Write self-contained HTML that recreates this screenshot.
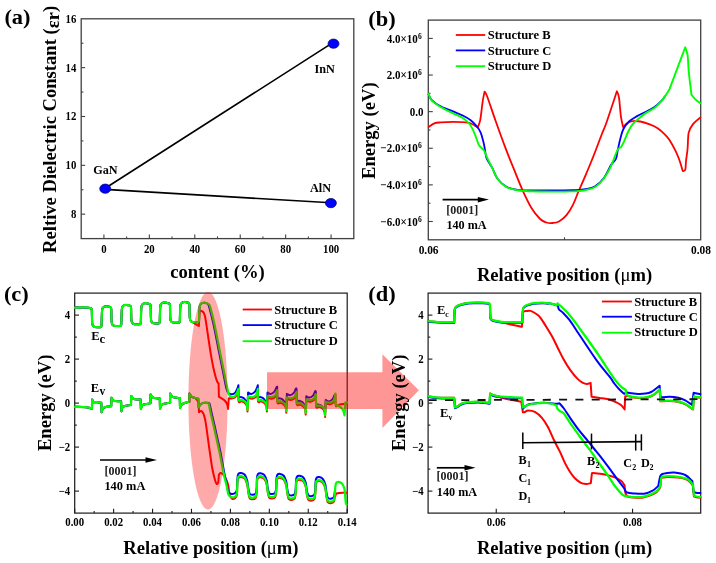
<!DOCTYPE html>
<html><head><meta charset="utf-8"><title>Figure</title>
<style>html,body{margin:0;padding:0;background:#fff;overflow:hidden;}svg{display:block;will-change:transform;}</style>
</head><body>
<svg width="716" height="563" viewBox="0 0 716 563"><text transform="translate(4.4 24.3) scale(1.03 1)" x="0" y="0" font-size="21.8" text-anchor="start" font-weight="bold" font-family="'Liberation Serif', serif" >(a)</text>
<line x1="81.2" y1="214.18" x2="85.2" y2="214.18" stroke="#404040" stroke-width="1.1" />
<text transform="translate(76.4 218.08) scale(1 1.2)" x="0" y="0" font-size="10.8" text-anchor="end" font-weight="bold" font-family="'Liberation Serif', serif" >8</text>
<line x1="81.2" y1="165.33" x2="85.2" y2="165.33" stroke="#404040" stroke-width="1.1" />
<text transform="translate(76.4 169.23) scale(1 1.2)" x="0" y="0" font-size="10.8" text-anchor="end" font-weight="bold" font-family="'Liberation Serif', serif" >10</text>
<line x1="81.2" y1="116.49" x2="85.2" y2="116.49" stroke="#404040" stroke-width="1.1" />
<text transform="translate(76.4 120.39) scale(1 1.2)" x="0" y="0" font-size="10.8" text-anchor="end" font-weight="bold" font-family="'Liberation Serif', serif" >12</text>
<line x1="81.2" y1="67.64" x2="85.2" y2="67.64" stroke="#404040" stroke-width="1.1" />
<text transform="translate(76.4 71.54) scale(1 1.2)" x="0" y="0" font-size="10.8" text-anchor="end" font-weight="bold" font-family="'Liberation Serif', serif" >14</text>
<text transform="translate(76.4 22.7) scale(1 1.2)" x="0" y="0" font-size="10.8" text-anchor="end" font-weight="bold" font-family="'Liberation Serif', serif" >16</text>
<line x1="81.2" y1="189.76" x2="83.4" y2="189.76" stroke="#404040" stroke-width="1.1" />
<line x1="81.2" y1="140.91" x2="83.4" y2="140.91" stroke="#404040" stroke-width="1.1" />
<line x1="81.2" y1="92.07" x2="83.4" y2="92.07" stroke="#404040" stroke-width="1.1" />
<line x1="81.2" y1="43.22" x2="83.4" y2="43.22" stroke="#404040" stroke-width="1.1" />
<line x1="103.92" y1="238.6" x2="103.92" y2="234.6" stroke="#404040" stroke-width="1.1" />
<text transform="translate(103.92 252.5) scale(1 1.2)" x="0" y="0" font-size="10.8" text-anchor="middle" font-weight="bold" font-family="'Liberation Serif', serif" >0</text>
<line x1="149.35" y1="238.6" x2="149.35" y2="234.6" stroke="#404040" stroke-width="1.1" />
<text transform="translate(149.35 252.5) scale(1 1.2)" x="0" y="0" font-size="10.8" text-anchor="middle" font-weight="bold" font-family="'Liberation Serif', serif" >20</text>
<line x1="194.78" y1="238.6" x2="194.78" y2="234.6" stroke="#404040" stroke-width="1.1" />
<text transform="translate(194.78 252.5) scale(1 1.2)" x="0" y="0" font-size="10.8" text-anchor="middle" font-weight="bold" font-family="'Liberation Serif', serif" >40</text>
<line x1="240.22" y1="238.6" x2="240.22" y2="234.6" stroke="#404040" stroke-width="1.1" />
<text transform="translate(240.22 252.5) scale(1 1.2)" x="0" y="0" font-size="10.8" text-anchor="middle" font-weight="bold" font-family="'Liberation Serif', serif" >60</text>
<line x1="285.65" y1="238.6" x2="285.65" y2="234.6" stroke="#404040" stroke-width="1.1" />
<text transform="translate(285.65 252.5) scale(1 1.2)" x="0" y="0" font-size="10.8" text-anchor="middle" font-weight="bold" font-family="'Liberation Serif', serif" >80</text>
<line x1="331.08" y1="238.6" x2="331.08" y2="234.6" stroke="#404040" stroke-width="1.1" />
<text transform="translate(331.08 252.5) scale(1 1.2)" x="0" y="0" font-size="10.8" text-anchor="middle" font-weight="bold" font-family="'Liberation Serif', serif" >100</text>
<line x1="126.63" y1="238.6" x2="126.63" y2="236.4" stroke="#404040" stroke-width="1.1" />
<line x1="172.07" y1="238.6" x2="172.07" y2="236.4" stroke="#404040" stroke-width="1.1" />
<line x1="217.5" y1="238.6" x2="217.5" y2="236.4" stroke="#404040" stroke-width="1.1" />
<line x1="262.93" y1="238.6" x2="262.93" y2="236.4" stroke="#404040" stroke-width="1.1" />
<line x1="308.37" y1="238.6" x2="308.37" y2="236.4" stroke="#404040" stroke-width="1.1" />
<rect x="81.2" y="18.8" width="272.6" height="219.8" fill="none" stroke="#404040" stroke-width="1.3"/>
<line x1="105.2" y1="188.3" x2="332.5" y2="42.9" stroke="#000" stroke-width="1.65" />
<line x1="105.2" y1="189.4" x2="330.9" y2="202.8" stroke="#000" stroke-width="1.65" />
<ellipse cx="105.2" cy="188.7" rx="5.5" ry="4.65" fill="#0000ff" stroke="#000060" stroke-width="0.7"/>
<ellipse cx="333.5" cy="43.7" rx="5.5" ry="4.65" fill="#0000ff" stroke="#000060" stroke-width="0.7"/>
<ellipse cx="330.9" cy="203.1" rx="5.5" ry="4.65" fill="#0000ff" stroke="#000060" stroke-width="0.7"/>
<text x="93.2" y="173.6" font-size="12.2" text-anchor="start" font-weight="bold" font-family="'Liberation Serif', serif" >GaN</text>
<text x="314.6" y="72.6" font-size="12.2" text-anchor="start" font-weight="bold" font-family="'Liberation Serif', serif" >InN</text>
<text x="310" y="191.8" font-size="12.2" text-anchor="start" font-weight="bold" font-family="'Liberation Serif', serif" >AlN</text>
<text transform="translate(56.2 129.4) rotate(-90)" x="0" y="0" font-size="18.6" text-anchor="middle" font-weight="bold" font-family="'Liberation Serif', serif" >Reltive Dielectric Constant (<tspan dy="2.6">&#949;r</tspan><tspan dy="-2.6">)</tspan></text>
<text x="217.5" y="277.6" font-size="18.6" text-anchor="middle" font-weight="bold" font-family="'Liberation Serif', serif" >content (%)</text>
<text transform="translate(368.2 25.5) scale(1.03 1)" x="0" y="0" font-size="21.8" text-anchor="start" font-weight="bold" font-family="'Liberation Serif', serif" >(b)</text>
<line x1="428.3" y1="221.49" x2="432.8" y2="221.49" stroke="#404040" stroke-width="1.1" />
<text transform="translate(417.8 225.59) scale(1 1.1)" x="0" y="0" font-size="11" text-anchor="end" font-weight="bold" font-family="'Liberation Serif', serif" >&#8722;6.0&#215;10</text>
<text transform="translate(418 221.69) scale(1 1.1)" x="0" y="0" font-size="7.6" text-anchor="start" font-weight="bold" font-family="'Liberation Serif', serif" >6</text>
<line x1="428.3" y1="184.88" x2="432.8" y2="184.88" stroke="#404040" stroke-width="1.1" />
<text transform="translate(417.8 188.97) scale(1 1.1)" x="0" y="0" font-size="11" text-anchor="end" font-weight="bold" font-family="'Liberation Serif', serif" >&#8722;4.0&#215;10</text>
<text transform="translate(418 185.07) scale(1 1.1)" x="0" y="0" font-size="7.6" text-anchor="start" font-weight="bold" font-family="'Liberation Serif', serif" >6</text>
<line x1="428.3" y1="148.26" x2="432.8" y2="148.26" stroke="#404040" stroke-width="1.1" />
<text transform="translate(417.8 152.36) scale(1 1.1)" x="0" y="0" font-size="11" text-anchor="end" font-weight="bold" font-family="'Liberation Serif', serif" >&#8722;2.0&#215;10</text>
<text transform="translate(418 148.46) scale(1 1.1)" x="0" y="0" font-size="7.6" text-anchor="start" font-weight="bold" font-family="'Liberation Serif', serif" >6</text>
<line x1="428.3" y1="111.64" x2="432.8" y2="111.64" stroke="#404040" stroke-width="1.1" />
<text transform="translate(423.4 115.74) scale(1 1.1)" x="0" y="0" font-size="11" text-anchor="end" font-weight="bold" font-family="'Liberation Serif', serif" >0.0</text>
<line x1="428.3" y1="75.03" x2="432.8" y2="75.03" stroke="#404040" stroke-width="1.1" />
<text transform="translate(417.8 79.12) scale(1 1.1)" x="0" y="0" font-size="11" text-anchor="end" font-weight="bold" font-family="'Liberation Serif', serif" >2.0&#215;10</text>
<text transform="translate(418 75.23) scale(1 1.1)" x="0" y="0" font-size="7.6" text-anchor="start" font-weight="bold" font-family="'Liberation Serif', serif" >6</text>
<line x1="428.3" y1="38.41" x2="432.8" y2="38.41" stroke="#404040" stroke-width="1.1" />
<text transform="translate(417.8 42.51) scale(1 1.1)" x="0" y="0" font-size="11" text-anchor="end" font-weight="bold" font-family="'Liberation Serif', serif" >4.0&#215;10</text>
<text transform="translate(418 38.61) scale(1 1.1)" x="0" y="0" font-size="7.6" text-anchor="start" font-weight="bold" font-family="'Liberation Serif', serif" >6</text>
<line x1="428.3" y1="203.18" x2="430.5" y2="203.18" stroke="#404040" stroke-width="1.1" />
<line x1="428.3" y1="166.57" x2="430.5" y2="166.57" stroke="#404040" stroke-width="1.1" />
<line x1="428.3" y1="129.95" x2="430.5" y2="129.95" stroke="#404040" stroke-width="1.1" />
<line x1="428.3" y1="93.33" x2="430.5" y2="93.33" stroke="#404040" stroke-width="1.1" />
<line x1="428.3" y1="56.72" x2="430.5" y2="56.72" stroke="#404040" stroke-width="1.1" />
<line x1="564.5" y1="239.8" x2="564.5" y2="237.3" stroke="#404040" stroke-width="1.1" />
<rect x="428.3" y="20.1" width="272.4" height="219.7" fill="none" stroke="#404040" stroke-width="1.3"/>
<text transform="translate(428.6 253.8) scale(1 1.1)" x="0" y="0" font-size="11.4" text-anchor="middle" font-weight="bold" font-family="'Liberation Serif', serif" >0.06</text>
<text transform="translate(700.9 253.8) scale(1 1.1)" x="0" y="0" font-size="11.4" text-anchor="middle" font-weight="bold" font-family="'Liberation Serif', serif" >0.08</text>
<text transform="translate(375.2 130.7) rotate(-90)" x="0" y="0" font-size="18.6" text-anchor="middle" font-weight="bold" font-family="'Liberation Serif', serif" >Energy (eV)</text>
<text x="564.5" y="280.7" font-size="18.6" text-anchor="middle" font-weight="bold" font-family="'Liberation Serif', serif" >Relative position (<tspan font-weight="normal">&#956;</tspan>m)</text>
<text transform="translate(3.9 301.2) scale(1.03 1)" x="0" y="0" font-size="21.8" text-anchor="start" font-weight="bold" font-family="'Liberation Serif', serif" >(c)</text>
<line x1="74.7" y1="491.1" x2="79" y2="491.1" stroke="#1a1a1a" stroke-width="1.1" />
<text transform="translate(70.2 494.7) scale(1 1.08)" x="0" y="0" font-size="10.8" text-anchor="end" font-weight="bold" font-family="'Liberation Serif', serif" >&#8722;4</text>
<line x1="74.7" y1="447.1" x2="79" y2="447.1" stroke="#1a1a1a" stroke-width="1.1" />
<text transform="translate(70.2 450.7) scale(1 1.08)" x="0" y="0" font-size="10.8" text-anchor="end" font-weight="bold" font-family="'Liberation Serif', serif" >&#8722;2</text>
<line x1="74.7" y1="403.1" x2="79" y2="403.1" stroke="#1a1a1a" stroke-width="1.1" />
<text transform="translate(70.2 406.7) scale(1 1.08)" x="0" y="0" font-size="10.8" text-anchor="end" font-weight="bold" font-family="'Liberation Serif', serif" >0</text>
<line x1="74.7" y1="359.1" x2="79" y2="359.1" stroke="#1a1a1a" stroke-width="1.1" />
<text transform="translate(70.2 362.7) scale(1 1.08)" x="0" y="0" font-size="10.8" text-anchor="end" font-weight="bold" font-family="'Liberation Serif', serif" >2</text>
<line x1="74.7" y1="315.1" x2="79" y2="315.1" stroke="#1a1a1a" stroke-width="1.1" />
<text transform="translate(70.2 318.7) scale(1 1.08)" x="0" y="0" font-size="10.8" text-anchor="end" font-weight="bold" font-family="'Liberation Serif', serif" >4</text>
<line x1="74.7" y1="469.1" x2="76.9" y2="469.1" stroke="#1a1a1a" stroke-width="1.1" />
<line x1="74.7" y1="425.1" x2="76.9" y2="425.1" stroke="#1a1a1a" stroke-width="1.1" />
<line x1="74.7" y1="381.1" x2="76.9" y2="381.1" stroke="#1a1a1a" stroke-width="1.1" />
<line x1="74.7" y1="337.1" x2="76.9" y2="337.1" stroke="#1a1a1a" stroke-width="1.1" />
<line x1="74.7" y1="513.1" x2="74.7" y2="508.8" stroke="#1a1a1a" stroke-width="1.1" />
<text transform="translate(74.7 526.4) scale(1 1.15)" x="0" y="0" font-size="10.8" text-anchor="middle" font-weight="bold" font-family="'Liberation Serif', serif" >0.00</text>
<line x1="113.63" y1="513.1" x2="113.63" y2="508.8" stroke="#1a1a1a" stroke-width="1.1" />
<text transform="translate(113.63 526.4) scale(1 1.15)" x="0" y="0" font-size="10.8" text-anchor="middle" font-weight="bold" font-family="'Liberation Serif', serif" >0.02</text>
<line x1="152.56" y1="513.1" x2="152.56" y2="508.8" stroke="#1a1a1a" stroke-width="1.1" />
<text transform="translate(152.56 526.4) scale(1 1.15)" x="0" y="0" font-size="10.8" text-anchor="middle" font-weight="bold" font-family="'Liberation Serif', serif" >0.04</text>
<line x1="191.49" y1="513.1" x2="191.49" y2="508.8" stroke="#1a1a1a" stroke-width="1.1" />
<text transform="translate(191.49 526.4) scale(1 1.15)" x="0" y="0" font-size="10.8" text-anchor="middle" font-weight="bold" font-family="'Liberation Serif', serif" >0.06</text>
<line x1="230.41" y1="513.1" x2="230.41" y2="508.8" stroke="#1a1a1a" stroke-width="1.1" />
<text transform="translate(230.41 526.4) scale(1 1.15)" x="0" y="0" font-size="10.8" text-anchor="middle" font-weight="bold" font-family="'Liberation Serif', serif" >0.08</text>
<line x1="269.34" y1="513.1" x2="269.34" y2="508.8" stroke="#1a1a1a" stroke-width="1.1" />
<text transform="translate(269.34 526.4) scale(1 1.15)" x="0" y="0" font-size="10.8" text-anchor="middle" font-weight="bold" font-family="'Liberation Serif', serif" >0.10</text>
<line x1="308.27" y1="513.1" x2="308.27" y2="508.8" stroke="#1a1a1a" stroke-width="1.1" />
<text transform="translate(308.27 526.4) scale(1 1.15)" x="0" y="0" font-size="10.8" text-anchor="middle" font-weight="bold" font-family="'Liberation Serif', serif" >0.12</text>
<line x1="347.2" y1="513.1" x2="347.2" y2="508.8" stroke="#1a1a1a" stroke-width="1.1" />
<text transform="translate(347.2 526.4) scale(1 1.15)" x="0" y="0" font-size="10.8" text-anchor="middle" font-weight="bold" font-family="'Liberation Serif', serif" >0.14</text>
<line x1="94.16" y1="513.1" x2="94.16" y2="510.9" stroke="#1a1a1a" stroke-width="1.1" />
<line x1="133.09" y1="513.1" x2="133.09" y2="510.9" stroke="#1a1a1a" stroke-width="1.1" />
<line x1="172.02" y1="513.1" x2="172.02" y2="510.9" stroke="#1a1a1a" stroke-width="1.1" />
<line x1="210.95" y1="513.1" x2="210.95" y2="510.9" stroke="#1a1a1a" stroke-width="1.1" />
<line x1="249.88" y1="513.1" x2="249.88" y2="510.9" stroke="#1a1a1a" stroke-width="1.1" />
<line x1="288.81" y1="513.1" x2="288.81" y2="510.9" stroke="#1a1a1a" stroke-width="1.1" />
<line x1="327.74" y1="513.1" x2="327.74" y2="510.9" stroke="#1a1a1a" stroke-width="1.1" />
<rect x="74.7" y="293.1" width="272.5" height="220" fill="none" stroke="#1a1a1a" stroke-width="1.2"/>
<text transform="translate(50.9 402.8) rotate(-90)" x="0" y="0" font-size="18.6" text-anchor="middle" font-weight="bold" font-family="'Liberation Serif', serif" >Energy (eV)</text>
<text x="210.9" y="554.2" font-size="18.6" text-anchor="middle" font-weight="bold" font-family="'Liberation Serif', serif" >Relative position (<tspan font-weight="normal">&#956;</tspan>m)</text>
<text transform="translate(368.2 301.2) scale(1.03 1)" x="0" y="0" font-size="21.8" text-anchor="start" font-weight="bold" font-family="'Liberation Serif', serif" >(d)</text>
<line x1="428.1" y1="491.1" x2="432.4" y2="491.1" stroke="#1a1a1a" stroke-width="1.1" />
<text transform="translate(423.7 494.7) scale(1 1.08)" x="0" y="0" font-size="10.8" text-anchor="end" font-weight="bold" font-family="'Liberation Serif', serif" >&#8722;4</text>
<line x1="428.1" y1="447.1" x2="432.4" y2="447.1" stroke="#1a1a1a" stroke-width="1.1" />
<text transform="translate(423.7 450.7) scale(1 1.08)" x="0" y="0" font-size="10.8" text-anchor="end" font-weight="bold" font-family="'Liberation Serif', serif" >&#8722;2</text>
<line x1="428.1" y1="403.1" x2="432.4" y2="403.1" stroke="#1a1a1a" stroke-width="1.1" />
<text transform="translate(423.7 406.7) scale(1 1.08)" x="0" y="0" font-size="10.8" text-anchor="end" font-weight="bold" font-family="'Liberation Serif', serif" >0</text>
<line x1="428.1" y1="359.1" x2="432.4" y2="359.1" stroke="#1a1a1a" stroke-width="1.1" />
<text transform="translate(423.7 362.7) scale(1 1.08)" x="0" y="0" font-size="10.8" text-anchor="end" font-weight="bold" font-family="'Liberation Serif', serif" >2</text>
<line x1="428.1" y1="315.1" x2="432.4" y2="315.1" stroke="#1a1a1a" stroke-width="1.1" />
<text transform="translate(423.7 318.7) scale(1 1.08)" x="0" y="0" font-size="10.8" text-anchor="end" font-weight="bold" font-family="'Liberation Serif', serif" >4</text>
<line x1="428.1" y1="469.1" x2="430.3" y2="469.1" stroke="#1a1a1a" stroke-width="1.1" />
<line x1="428.1" y1="425.1" x2="430.3" y2="425.1" stroke="#1a1a1a" stroke-width="1.1" />
<line x1="428.1" y1="381.1" x2="430.3" y2="381.1" stroke="#1a1a1a" stroke-width="1.1" />
<line x1="428.1" y1="337.1" x2="430.3" y2="337.1" stroke="#1a1a1a" stroke-width="1.1" />
<line x1="496.25" y1="513.1" x2="496.25" y2="508.8" stroke="#1a1a1a" stroke-width="1.1" />
<text transform="translate(496.25 526.4) scale(1 1.15)" x="0" y="0" font-size="10.8" text-anchor="middle" font-weight="bold" font-family="'Liberation Serif', serif" >0.06</text>
<line x1="632.55" y1="513.1" x2="632.55" y2="508.8" stroke="#1a1a1a" stroke-width="1.1" />
<text transform="translate(632.55 526.4) scale(1 1.15)" x="0" y="0" font-size="10.8" text-anchor="middle" font-weight="bold" font-family="'Liberation Serif', serif" >0.08</text>
<line x1="564.4" y1="513.1" x2="564.4" y2="510.9" stroke="#1a1a1a" stroke-width="1.1" />
<rect x="428.1" y="293.1" width="272.6" height="220" fill="none" stroke="#1a1a1a" stroke-width="1.2"/>
<text x="564.5" y="554.2" font-size="18.6" text-anchor="middle" font-weight="bold" font-family="'Liberation Serif', serif" >Relative position (<tspan font-weight="normal">&#956;</tspan>m)</text>
<path d="M428.6 127.1C429.55 126.48 432.3 124.18 434.3 123.4C436.3 122.62 437.47 122.65 440.6 122.4C443.73 122.15 448.92 121.9 453.1 121.9C457.28 121.9 462.55 122.05 465.7 122.4C468.85 122.75 470.02 123.15 472 124C473.98 124.85 476.67 126.92 477.6 127.5C478.03 126.28 479.35 124.55 480.2 120.2C481.05 115.85 481.97 106.17 482.7 101.4C483.43 96.63 484.28 93.23 484.6 91.6C485.02 92.38 485.2 91.23 487.1 96.3C489 101.37 492.87 113.2 496 122C499.13 130.8 502.73 140.78 505.9 149.1C509.07 157.42 512.23 165.07 515 171.9C517.77 178.73 519.78 184.13 522.5 190.1C525.22 196.07 528.37 202.88 531.3 207.7C534.23 212.52 537.58 216.53 540.1 219C542.62 221.47 544.3 221.83 546.4 222.5C548.5 223.17 550.6 223.17 552.7 223C554.8 222.83 556.7 222.8 559 221.5C561.3 220.2 564.2 217.92 566.5 215.2C568.8 212.48 570.8 209.17 572.8 205.2C574.8 201.23 576.47 196.17 578.5 191.4C580.53 186.63 582.43 182.67 585 176.6C587.57 170.53 591.15 161.93 593.9 155C596.65 148.07 599.42 140.38 601.5 135C603.58 129.62 603.83 129.98 606.4 122.7C608.97 115.42 615.15 96.53 616.9 91.3C617.25 92.35 618.33 93.42 619 97.6C619.67 101.78 620.22 111.48 620.9 116.4C621.58 121.32 622.73 125.32 623.1 127.1C623.88 126.37 626.18 123.7 627.8 122.7C629.42 121.7 630.7 121.3 632.8 121.1C634.9 120.9 637.47 120.92 640.4 121.5C643.33 122.08 647.47 123.45 650.4 124.6C653.33 125.75 655.57 126.73 658 128.4C660.43 130.07 663.08 132.65 665 134.6C666.92 136.55 667.77 137.42 669.5 140.1C671.23 142.78 673.8 147.52 675.4 150.7C677 153.88 678.03 156.37 679.1 159.2C680.17 162.03 681.18 165.72 681.8 167.7C682.42 169.68 682.63 170.53 682.8 171.1C683.22 170.88 684.77 171.43 685.3 169.8C685.83 168.17 685.62 164.85 686 161.3C686.38 157.75 687.15 153.28 687.6 148.5C688.05 143.72 687.8 136.67 688.7 132.6C689.6 128.53 691.05 126.62 693 124.1C694.95 121.58 699.17 118.6 700.4 117.5" fill="none" stroke="#ff0000" stroke-width="1.8" stroke-linejoin="round" stroke-linecap="round"/>
<path d="M428.6 94.5C429.13 95.43 429.8 98.12 431.8 100.1C433.8 102.08 437.05 104.52 440.6 106.4C444.15 108.28 449.33 109.83 453.1 111.4C456.87 112.97 460.27 114.33 463.2 115.8C466.13 117.27 468.4 118.42 470.7 120.2C473 121.98 475.32 124.4 477 126.5C478.68 128.6 479.75 130.28 480.8 132.8C481.85 135.32 482.68 139.23 483.3 141.6C483.92 143.97 483.98 144.33 484.5 147C485.02 149.67 485.45 154.68 486.4 157.6C487.35 160.52 489.15 162.62 490.2 164.5C491.25 166.38 491.45 166.48 492.7 168.9C493.95 171.32 495.4 176.02 497.7 179C500 181.98 503.15 184.97 506.5 186.8C509.85 188.63 513.88 189.42 517.8 190C521.72 190.58 524.18 190.23 530 190.3C535.82 190.37 545.77 190.42 552.7 190.4C559.63 190.38 566.47 190.35 571.6 190.2C576.73 190.05 579.58 190.17 583.5 189.5C587.42 188.83 591.73 188.08 595.1 186.2C598.47 184.32 601.03 181.77 603.7 178.2C606.37 174.63 609.07 168 611.1 164.8C613.13 161.6 614.75 161.65 615.9 159C617.05 156.35 617.28 152.18 618 148.9C618.72 145.62 619.3 142.62 620.2 139.3C621.1 135.98 621.93 131.97 623.4 129C624.87 126.03 626.8 123.6 629 121.5C631.2 119.4 633.87 117.98 636.6 116.4C639.33 114.82 642.47 113.53 645.4 112C648.33 110.47 651.48 109.1 654.2 107.2C656.92 105.3 659.9 102.42 661.7 100.6C663.5 98.78 664.45 97.02 665 96.3" fill="none" stroke="#0000ff" stroke-width="1.8" stroke-linejoin="round" stroke-linecap="round"/>
<path d="M428.6 93.8C429.13 94.95 429.8 98.5 431.8 100.7C433.8 102.9 437.05 104.9 440.6 107C444.15 109.1 449.33 111.42 453.1 113.3C456.87 115.18 460.47 116.52 463.2 118.3C465.93 120.08 467.83 122 469.5 124C471.17 126 472.02 127.8 473.2 130.3C474.38 132.8 475.65 136.55 476.6 139C477.55 141.45 478 143.42 478.9 145C479.8 146.58 481.07 147.45 482 148.5C482.93 149.55 483.55 149.57 484.5 151.3C485.45 153.03 486.33 155.97 487.7 158.9C489.07 161.83 491.03 165.55 492.7 168.9C494.37 172.25 495.4 175.97 497.7 179C500 182.03 503.15 185.22 506.5 187.1C509.85 188.98 513.82 189.6 517.8 190.3C521.78 191 524.58 191.08 530.4 191.3C536.22 191.52 545.83 191.58 552.7 191.6C559.57 191.62 566.47 191.58 571.6 191.4C576.73 191.22 579.58 191.23 583.5 190.5C587.42 189.77 591.73 188.97 595.1 187C598.47 185.03 601.03 182.22 603.7 178.7C606.37 175.18 608.8 170.7 611.1 165.9C613.4 161.1 615.82 153.08 617.5 149.9C619.18 146.72 620.12 148.18 621.2 146.8C622.28 145.42 622.9 143.98 624 141.6C625.1 139.22 626.63 135.02 627.8 132.5C628.97 129.98 629.75 128.33 631 126.5C632.25 124.67 632.9 123.68 635.3 121.5C637.7 119.32 642.05 115.77 645.4 113.4C648.75 111.03 652.47 109.67 655.4 107.3C658.33 104.93 660.73 102.08 663 99.2C665.27 96.32 667.73 92.17 669 90C670.27 87.83 669.27 89.68 670.6 86.2C671.93 82.72 675.05 74.27 677 69.1C678.95 63.93 680.93 58.83 682.3 55.2C683.67 51.57 684.72 48.62 685.2 47.3C685.6 48.62 687.02 51.22 687.6 55.2C688.18 59.18 688.25 66.22 688.7 71.2C689.15 76.18 689.85 81.2 690.3 85.1C690.75 89 691.22 93.02 691.4 94.6C692.02 95.35 693.6 97.65 695.1 99.1C696.6 100.55 699.52 102.6 700.4 103.3" fill="none" stroke="#00ff00" stroke-width="1.9" stroke-linejoin="round" stroke-linecap="round"/>
<line x1="455.8" y1="35" x2="485.2" y2="35" stroke="#ff0000" stroke-width="1.8" />
<text x="487.7" y="39.1" font-size="12.55" text-anchor="start" font-weight="bold" font-family="'Liberation Serif', serif" >Structure B</text>
<line x1="455.8" y1="50.4" x2="485.2" y2="50.4" stroke="#0000ff" stroke-width="1.8" />
<text x="487.7" y="54.5" font-size="12.55" text-anchor="start" font-weight="bold" font-family="'Liberation Serif', serif" >Structure C</text>
<line x1="455.8" y1="66.2" x2="485.2" y2="66.2" stroke="#00ff00" stroke-width="1.8" />
<text x="487.7" y="69.6" font-size="12.55" text-anchor="start" font-weight="bold" font-family="'Liberation Serif', serif" >Structure D</text>
<line x1="442.6" y1="199.6" x2="480" y2="199.6" stroke="#000" stroke-width="1.7" />
<polygon points="477.8,196.9 488.9,199.6 477.8,202.4" fill="#000"/>
<text x="446.2" y="213.5" font-size="12" text-anchor="start" font-weight="bold" font-family="'Liberation Serif', serif" fill="#222">[0001]</text>
<text x="446.4" y="228.6" font-size="12.2" text-anchor="start" font-weight="bold" font-family="'Liberation Serif', serif" >140 mA</text>
<path d="M74.9 307.6C76.15 307.57 80.18 307.38 82.4 307.4C84.62 307.42 86.77 307.52 88.2 307.7C89.63 307.88 90.4 308.18 91 308.5C91.6 308.82 91.67 309.42 91.8 309.6C91.86 311.7 91.98 319.57 92.15 322.2C92.32 324.83 92.41 324.62 92.8 325.4C93.19 326.18 93.8 326.6 94.5 326.9C95.2 327.2 95.93 327.18 97 327.2C98.07 327.22 100.15 327.25 100.9 327C101.65 326.75 101.4 325.92 101.5 325.7C101.59 323.22 101.8 313.8 102.05 310.8C102.3 307.8 102.56 308.42 103 307.7C103.44 306.98 104.08 306.73 104.7 306.5C105.32 306.27 105.93 306.25 106.7 306.3C107.47 306.35 108.6 306.55 109.3 306.8C110 307.05 110.57 307.35 110.9 307.8C111.23 308.25 111.23 309.22 111.3 309.5C111.34 311.42 111.4 318.55 111.55 321C111.7 323.45 111.81 323.42 112.2 324.2C112.59 324.98 113.2 325.4 113.9 325.7C114.6 326 115.27 325.98 116.4 326C117.53 326.02 119.88 326.05 120.7 325.8C121.52 325.55 121.2 324.72 121.3 324.5C121.39 321.98 121.6 312.43 121.85 309.4C122.1 306.37 122.36 307.02 122.8 306.3C123.24 305.58 123.88 305.33 124.5 305.1C125.12 304.87 125.73 304.85 126.5 304.9C127.27 304.95 128.4 305.15 129.1 305.4C129.8 305.65 130.37 305.95 130.7 306.4C131.03 306.85 131.03 307.82 131.1 308.1C131.14 309.97 131.2 316.9 131.35 319.3C131.5 321.7 131.61 321.72 132 322.5C132.39 323.28 133 323.7 133.7 324C134.4 324.3 135.12 324.28 136.2 324.3C137.28 324.32 139.43 324.35 140.2 324.1C140.97 323.85 140.7 323.02 140.8 322.8C140.89 320.28 141.1 310.73 141.35 307.7C141.6 304.67 141.86 305.32 142.3 304.6C142.74 303.88 143.38 303.63 144 303.4C144.62 303.17 145.23 303.15 146 303.2C146.77 303.25 147.88 303.45 148.6 303.7C149.32 303.95 149.95 304.25 150.3 304.7C150.65 305.15 150.63 306.12 150.7 306.4C150.74 308.42 150.8 315.95 150.95 318.5C151.1 321.05 151.21 320.92 151.6 321.7C151.99 322.48 152.6 322.9 153.3 323.2C154 323.5 154.83 323.48 155.8 323.5C156.77 323.52 158.45 323.55 159.1 323.3C159.75 323.05 159.6 322.22 159.7 322C159.79 319.5 160 310.02 160.25 307C160.5 303.98 160.76 304.62 161.2 303.9C161.64 303.18 162.28 302.93 162.9 302.7C163.52 302.47 164.13 302.45 164.9 302.5C165.67 302.55 166.72 302.75 167.5 303C168.28 303.25 169.18 303.55 169.6 304C170.02 304.45 169.93 305.42 170 305.7C170.04 307.7 170.1 315.17 170.25 317.7C170.4 320.23 170.51 320.12 170.9 320.9C171.29 321.68 171.9 322.1 172.6 322.4C173.3 322.7 174 322.68 175.1 322.7C176.2 322.72 178.42 322.75 179.2 322.5C179.98 322.25 179.7 321.42 179.8 321.2C179.89 318.75 180.1 309.47 180.35 306.5C180.6 303.53 180.86 304.12 181.3 303.4C181.74 302.68 182.38 302.43 183 302.2C183.62 301.97 184.23 301.95 185 302C185.77 302.05 186.92 302.25 187.6 302.5C188.28 302.75 188.78 303.05 189.1 303.5C189.42 303.95 189.43 304.92 189.5 305.2C189.54 307.2 189.6 314.67 189.75 317.2C189.9 319.73 190.01 319.62 190.4 320.4C190.79 321.18 191.6 321.52 192.1 321.9C192.6 322.28 192.75 322.28 193.4 322.7C194.05 323.12 195.08 323.85 196 324.4C196.92 324.95 198.42 325.73 198.9 326C199.02 323.63 199.33 314.33 199.6 311.8C199.87 309.27 200.17 310.92 200.5 310.8C200.83 310.68 201.08 310.8 201.6 311.1C202.12 311.4 202.98 311.48 203.6 312.6C204.22 313.72 204.57 313.98 205.3 317.8C206.03 321.62 207.1 329.58 208 335.5C208.9 341.42 209.82 347.97 210.7 353.3C211.58 358.63 212.42 363.35 213.3 367.5C214.18 371.65 215.28 375.72 216 378.2C216.72 380.68 217.17 381.52 217.6 382.4C218.03 383.28 218.43 383.32 218.6 383.5C218.65 385.72 218.85 394.58 218.9 396.8C219.38 397.08 220.77 397.8 221.8 398.5C222.83 399.2 224.2 400.02 225.1 401C226 401.98 226.7 403.07 227.2 404.4C227.7 405.73 227.95 408.23 228.1 409C228.22 407.2 228.68 400 228.8 398.2C229.32 398.23 230.83 398.55 231.9 398.4C232.97 398.25 234.27 398.23 235.2 397.3C236.13 396.37 236.97 393.93 237.5 392.8C238.03 391.67 238.25 390.88 238.4 390.5C238.44 392.32 238.17 399.58 238.65 401.4C239.13 403.22 240.33 401.17 241.3 401.4C242.28 401.63 243.58 402.05 244.5 402.8C245.42 403.55 246.3 404.47 246.8 405.9C247.3 407.33 247.38 410.48 247.5 411.4C247.6 409.13 248 400.07 248.1 397.8C248.78 397.95 250.9 398.87 252.2 398.7C253.5 398.53 255.05 397.75 255.9 396.8C256.75 395.85 256.98 394.05 257.3 393C257.62 391.95 257.72 390.92 257.8 390.5C257.84 392.32 257.57 399.58 258.05 401.4C258.53 403.22 259.72 401.17 260.7 401.4C261.68 401.63 262.98 402.05 263.9 402.8C264.82 403.55 265.7 404.47 266.2 405.9C266.7 407.33 266.78 410.48 266.9 411.4C267 409.13 267.4 400.07 267.5 397.8C268.18 397.95 270.3 398.87 271.6 398.7C272.9 398.53 274.45 397.75 275.3 396.8C276.15 395.85 276.38 393.83 276.7 393C277.02 392.17 277.12 392 277.2 391.8C277.24 393.62 276.97 400.88 277.45 402.7C277.93 404.52 279.12 402.47 280.1 402.7C281.07 402.93 282.38 403.35 283.3 404.1C284.22 404.85 285.1 405.77 285.6 407.2C286.1 408.63 286.18 411.78 286.3 412.7C286.4 410.43 286.8 401.37 286.9 399.1C287.58 399.25 289.7 400.17 291 400C292.3 399.83 293.85 399.05 294.7 398.1C295.55 397.15 295.78 395.05 296.1 394.3C296.42 393.55 296.52 393.72 296.6 393.6C296.64 395.42 296.37 402.68 296.85 404.5C297.33 406.32 298.52 404.27 299.5 404.5C300.48 404.73 301.78 405.15 302.7 405.9C303.62 406.65 304.5 407.57 305 409C305.5 410.43 305.58 413.58 305.7 414.5C305.8 412.23 306.2 403.17 306.3 400.9C306.98 401.05 309.1 401.97 310.4 401.8C311.7 401.63 313.25 400.85 314.1 399.9C314.95 398.95 315.18 396.75 315.5 396.1C315.82 395.45 315.92 396.02 316 396C316.04 397.82 315.77 405.08 316.25 406.9C316.73 408.72 317.92 406.67 318.9 406.9C319.88 407.13 321.18 407.55 322.1 408.3C323.02 409.05 323.9 409.97 324.4 411.4C324.9 412.83 324.98 415.98 325.1 416.9C325.2 414.63 325.6 405.57 325.7 403.3C326.38 403.45 328.5 404.37 329.8 404.2C331.1 404.03 332.65 403.25 333.5 402.3C334.35 401.35 334.58 399.82 334.9 398.5C335.22 397.18 335.32 395.08 335.4 394.4C335.47 396.25 335.53 403.63 335.8 405.5C336.07 407.37 336.3 405.77 337 405.6C337.7 405.43 338.83 404.78 340 404.5C341.17 404.22 342.83 404.07 344 403.9C345.17 403.73 346.5 403.57 347 403.5" fill="none" stroke="#ff0000" stroke-width="2" stroke-linejoin="round" stroke-linecap="round"/>
<path d="M74.9 406.8C76.72 406.87 83.2 406.97 85.8 407.2C88.4 407.43 89.48 407.93 90.5 408.2C91.52 408.47 91.67 408.7 91.9 408.8C91.95 407.25 92.15 401.05 92.2 399.5C92.42 399.92 92.6 401.55 93.5 402C94.4 402.45 96.3 402.07 97.6 402.2C98.9 402.33 100.68 402.7 101.3 402.8C101.35 404.37 101.55 410.63 101.6 412.2C101.85 411.53 102.25 409.1 103.1 408.2C103.95 407.3 105.35 407.12 106.7 406.8C108.05 406.48 110.45 406.38 111.2 406.3C111.25 404.87 111.45 399.13 111.5 397.7C111.92 398.23 112.53 400.3 114 400.9C115.47 401.5 119.12 401.22 120.3 401.3C121.48 401.38 120.97 401.38 121.1 401.4C121.15 403.05 121.35 409.65 121.4 411.3C121.67 410.55 121.52 407.85 123 406.8C124.48 405.75 128.97 405.3 130.3 405C131.63 404.7 130.88 405 131 405C131.03 403.48 131.17 397.42 131.2 395.9C131.65 396.43 132.6 398.5 133.9 399.1C135.2 399.7 137.88 399.42 139 399.5C140.12 399.58 140.33 399.58 140.6 399.6C140.65 401.18 140.85 407.52 140.9 409.1C141.13 408.48 141.47 406.23 142.3 405.4C143.13 404.57 144.55 404.47 145.9 404.1C147.25 403.73 149.65 403.35 150.4 403.2C150.43 401.75 150.57 395.95 150.6 394.5C151.03 395.03 151.72 397.02 153.2 397.7C154.68 398.38 158.4 398.43 159.5 398.6C160.6 398.77 159.75 398.68 159.8 398.7C159.83 400.35 159.97 406.95 160 408.6C160.37 407.92 160.62 405.48 162.2 404.5C163.78 403.52 168.2 403.02 169.5 402.7C170.8 402.38 169.92 402.62 170 402.6C170.03 401.1 170.17 395.1 170.2 393.6C170.62 394.13 171.15 396.03 172.7 396.8C174.25 397.57 178.32 397.95 179.5 398.2C180.68 398.45 179.75 398.28 179.8 398.3C179.83 399.93 179.97 406.47 180 408.1C180.37 407.43 180.77 405.15 182.2 404.1C183.63 403.05 187.42 402.2 188.6 401.8C189.78 401.4 189.18 401.72 189.3 401.7C189.33 400.35 189.47 394.95 189.5 393.6C189.87 394.12 190.78 395.97 191.7 396.7C192.62 397.43 194 397.32 195 398C196 398.68 197.12 400.03 197.7 400.8C198.28 401.57 198.37 402.3 198.5 402.6C198.58 404.22 198.92 410.68 199 412.3C199.37 412.08 200.47 410.77 201.2 411C201.93 411.23 202.73 412.22 203.4 413.7C204.07 415.18 204.67 417.38 205.2 419.9C205.73 422.42 206 424.62 206.6 428.8C207.2 432.98 208.13 440.22 208.8 445C209.47 449.78 210.03 453.67 210.6 457.5C211.17 461.33 211.52 464.43 212.2 468C212.88 471.57 213.97 476.25 214.7 478.9C215.43 481.55 216.02 483.22 216.6 483.9C217.18 484.58 217.93 483.15 218.2 483C218.32 481.62 218.78 476.08 218.9 474.7C219.17 474.42 219.88 473.13 220.5 473C221.12 472.87 221.83 473.2 222.6 473.9C223.37 474.6 224.18 475.38 225.1 477.2C226.02 479.02 227.35 481.92 228.1 484.8C228.85 487.68 228.92 492.17 229.6 494.5C230.28 496.83 231.27 498.22 232.2 498.8C233.13 499.38 234.42 498.7 235.2 498C235.98 497.3 236.53 497.18 236.9 494.6C237.27 492.02 237.17 485.27 237.4 482.5C237.63 479.73 237.68 478.92 238.3 478C238.92 477.08 240.03 476.88 241.1 477C242.17 477.12 243.68 477.47 244.7 478.7C245.72 479.93 246.6 482.15 247.2 484.4C247.8 486.65 247.88 489.88 248.3 492.2C248.72 494.52 249 497.12 249.7 498.3C250.4 499.48 251.5 499.37 252.5 499.3C253.5 499.23 254.98 499.2 255.7 497.9C256.42 496.6 256.6 494.03 256.8 491.5C257 488.97 256.73 484.92 256.9 482.7C257.07 480.48 257.18 479.12 257.8 478.2C258.42 477.28 259.53 477.08 260.6 477.2C261.67 477.32 263.18 477.67 264.2 478.9C265.22 480.13 266.1 482.35 266.7 484.6C267.3 486.85 267.38 490.23 267.8 492.4C268.22 494.57 268.5 496.57 269.2 497.6C269.9 498.63 271 498.67 272 498.6C273 498.53 274.48 498.5 275.2 497.2C275.92 495.9 276.1 493.1 276.3 490.8C276.5 488.5 276.23 485.38 276.4 483.4C276.57 481.42 276.68 479.82 277.3 478.9C277.92 477.98 279.03 477.78 280.1 477.9C281.17 478.02 282.68 478.37 283.7 479.6C284.72 480.83 285.6 483.05 286.2 485.3C286.8 487.55 286.88 490.82 287.3 493.1C287.72 495.38 288 497.85 288.7 499C289.4 500.15 290.5 500.07 291.5 500C292.5 499.93 293.98 499.9 294.7 498.6C295.42 497.3 295.58 494.43 295.8 492.2C296.02 489.97 295.82 487.12 296 485.2C296.18 483.28 296.28 481.62 296.9 480.7C297.52 479.78 298.63 479.58 299.7 479.7C300.77 479.82 302.28 480.17 303.3 481.4C304.32 482.63 305.2 484.85 305.8 487.1C306.4 489.35 306.48 492.8 306.9 494.9C307.32 497 307.6 498.73 308.3 499.7C309 500.67 310.1 500.77 311.1 500.7C312.1 500.63 313.58 500.6 314.3 499.3C315.02 498 315.2 495.02 315.4 492.9C315.6 490.78 315.33 488.4 315.5 486.6C315.67 484.8 315.78 483.02 316.4 482.1C317.02 481.18 318.13 480.98 319.2 481.1C320.27 481.22 321.78 481.57 322.8 482.8C323.82 484.03 324.7 486.25 325.3 488.5C325.9 490.75 325.98 494.02 326.4 496.3C326.82 498.58 327.1 501.05 327.8 502.2C328.5 503.35 329.6 503.27 330.6 503.2C331.6 503.13 333.08 503.1 333.8 501.8C334.52 500.5 334.67 496.28 334.9 495.4C335.13 494.52 335.03 496.68 335.2 496.5C335.37 496.32 335.58 494.83 335.9 494.3C336.22 493.77 336.45 493.53 337.1 493.3C337.75 493.07 338.4 493.03 339.8 492.9C341.2 492.77 344.32 492.5 345.5 492.5C346.68 492.5 346.67 492.83 346.9 492.9" fill="none" stroke="#ff0000" stroke-width="2" stroke-linejoin="round" stroke-linecap="round"/>
<path d="M74.9 307.6C76.15 307.57 80.18 307.38 82.4 307.4C84.62 307.42 86.77 307.52 88.2 307.7C89.63 307.88 90.4 308.18 91 308.5C91.6 308.82 91.67 309.42 91.8 309.6C91.86 311.7 91.98 319.57 92.15 322.2C92.32 324.83 92.41 324.62 92.8 325.4C93.19 326.18 93.8 326.6 94.5 326.9C95.2 327.2 95.93 327.18 97 327.2C98.07 327.22 100.15 327.25 100.9 327C101.65 326.75 101.4 325.92 101.5 325.7C101.59 323.22 101.8 313.8 102.05 310.8C102.3 307.8 102.56 308.42 103 307.7C103.44 306.98 104.08 306.73 104.7 306.5C105.32 306.27 105.93 306.25 106.7 306.3C107.47 306.35 108.6 306.55 109.3 306.8C110 307.05 110.57 307.35 110.9 307.8C111.23 308.25 111.23 309.22 111.3 309.5C111.34 311.42 111.4 318.55 111.55 321C111.7 323.45 111.81 323.42 112.2 324.2C112.59 324.98 113.2 325.4 113.9 325.7C114.6 326 115.27 325.98 116.4 326C117.53 326.02 119.88 326.05 120.7 325.8C121.52 325.55 121.2 324.72 121.3 324.5C121.39 321.98 121.6 312.43 121.85 309.4C122.1 306.37 122.36 307.02 122.8 306.3C123.24 305.58 123.88 305.33 124.5 305.1C125.12 304.87 125.73 304.85 126.5 304.9C127.27 304.95 128.4 305.15 129.1 305.4C129.8 305.65 130.37 305.95 130.7 306.4C131.03 306.85 131.03 307.82 131.1 308.1C131.14 309.97 131.2 316.9 131.35 319.3C131.5 321.7 131.61 321.72 132 322.5C132.39 323.28 133 323.7 133.7 324C134.4 324.3 135.12 324.28 136.2 324.3C137.28 324.32 139.43 324.35 140.2 324.1C140.97 323.85 140.7 323.02 140.8 322.8C140.89 320.28 141.1 310.73 141.35 307.7C141.6 304.67 141.86 305.32 142.3 304.6C142.74 303.88 143.38 303.63 144 303.4C144.62 303.17 145.23 303.15 146 303.2C146.77 303.25 147.88 303.45 148.6 303.7C149.32 303.95 149.95 304.25 150.3 304.7C150.65 305.15 150.63 306.12 150.7 306.4C150.74 308.42 150.8 315.95 150.95 318.5C151.1 321.05 151.21 320.92 151.6 321.7C151.99 322.48 152.6 322.9 153.3 323.2C154 323.5 154.83 323.48 155.8 323.5C156.77 323.52 158.45 323.55 159.1 323.3C159.75 323.05 159.6 322.22 159.7 322C159.79 319.5 160 310.02 160.25 307C160.5 303.98 160.76 304.62 161.2 303.9C161.64 303.18 162.28 302.93 162.9 302.7C163.52 302.47 164.13 302.45 164.9 302.5C165.67 302.55 166.72 302.75 167.5 303C168.28 303.25 169.18 303.55 169.6 304C170.02 304.45 169.93 305.42 170 305.7C170.04 307.7 170.1 315.17 170.25 317.7C170.4 320.23 170.51 320.12 170.9 320.9C171.29 321.68 171.9 322.1 172.6 322.4C173.3 322.7 174 322.68 175.1 322.7C176.2 322.72 178.42 322.75 179.2 322.5C179.98 322.25 179.7 321.42 179.8 321.2C179.89 318.75 180.1 309.47 180.35 306.5C180.6 303.53 180.86 304.12 181.3 303.4C181.74 302.68 182.38 302.43 183 302.2C183.62 301.97 184.23 301.95 185 302C185.77 302.05 186.92 302.25 187.6 302.5C188.28 302.75 188.78 303.05 189.1 303.5C189.42 303.95 189.43 304.92 189.5 305.2C189.54 307.2 189.6 314.67 189.75 317.2C189.9 319.73 190.01 319.62 190.4 320.4C190.79 321.18 191.4 321.6 192.1 321.9C192.8 322.2 193.55 322.18 194.6 322.2C195.65 322.22 197.67 322.25 198.4 322C199.13 321.75 198.9 320.92 199 320.7C199.09 318.45 199.3 309.93 199.55 307.2C199.8 304.47 200.06 304.98 200.5 304.3C200.94 303.62 201.58 303.37 202.2 303.1C202.82 302.83 203.43 302.67 204.2 302.7C204.97 302.73 206.12 302.98 206.8 303.3C207.48 303.62 207.82 303.67 208.3 304.6C208.78 305.53 208.88 305.82 209.7 308.9C210.52 311.98 212.02 317.77 213.2 323.1C214.38 328.43 215.62 334.98 216.8 340.9C217.98 346.82 219.12 352.68 220.3 358.6C221.48 364.52 222.9 371.47 223.9 376.4C224.9 381.33 225.53 385.4 226.3 388.2C227.07 391 227.57 392.18 228.5 393.2C229.43 394.22 230.78 394.4 231.9 394.3C233.02 394.2 234.28 393.57 235.2 392.6C236.12 391.63 236.87 389.72 237.4 388.5C237.93 387.28 238.23 385.83 238.4 385.3C238.44 387.12 238.17 394.23 238.65 396.2C239.13 398.17 240.39 396.73 241.3 397.1C242.21 397.47 243.27 397.65 244.1 398.4C244.93 399.15 245.73 400.62 246.3 401.6C246.87 402.58 247.3 403.85 247.5 404.3C247.6 402.33 248 394.47 248.1 392.5C248.63 392.73 250.15 394.05 251.3 393.9C252.45 393.75 254.03 392.7 255 391.6C255.97 390.5 256.63 388.35 257.1 387.3C257.57 386.25 257.68 385.63 257.8 385.3C257.84 387.12 257.57 394.23 258.05 396.2C258.53 398.17 259.79 396.73 260.7 397.1C261.61 397.47 262.67 397.65 263.5 398.4C264.33 399.15 265.13 400.62 265.7 401.6C266.27 402.58 266.7 403.85 266.9 404.3C267 402.33 267.4 394.47 267.5 392.5C268.03 392.73 269.55 394.05 270.7 393.9C271.85 393.75 273.43 392.7 274.4 391.6C275.37 390.5 276.03 388.13 276.5 387.3C276.97 386.47 277.08 386.72 277.2 386.6C277.24 388.42 276.97 395.53 277.45 397.5C277.93 399.47 279.19 398.03 280.1 398.4C281.01 398.77 282.07 398.95 282.9 399.7C283.73 400.45 284.53 401.92 285.1 402.9C285.67 403.88 286.1 405.15 286.3 405.6C286.4 403.63 286.8 395.77 286.9 393.8C287.43 394.03 288.95 395.35 290.1 395.2C291.25 395.05 292.83 394 293.8 392.9C294.77 391.8 295.43 389.25 295.9 388.6C296.37 387.95 296.48 388.93 296.6 389C296.64 390.82 296.37 397.93 296.85 399.9C297.33 401.87 298.59 400.43 299.5 400.8C300.41 401.17 301.47 401.35 302.3 402.1C303.13 402.85 303.93 404.27 304.5 405.3C305.07 406.33 305.5 407.8 305.7 408.3C305.8 406.28 306.2 398.22 306.3 396.2C306.83 396.43 308.35 397.75 309.5 397.6C310.65 397.45 312.23 396.4 313.2 395.3C314.17 394.2 314.83 391.42 315.3 391C315.77 390.58 315.88 392.5 316 392.8C316.04 394.62 315.77 401.73 316.25 403.7C316.73 405.67 317.99 404.23 318.9 404.6C319.81 404.97 320.87 405.15 321.7 405.9C322.53 406.65 323.33 407.95 323.9 409.1C324.47 410.25 324.9 412.18 325.1 412.8C325.2 410.67 325.6 402.13 325.7 400C326.23 400.23 327.75 401.55 328.9 401.4C330.05 401.25 331.63 400.2 332.6 399.1C333.57 398 334.33 395.38 334.7 394.8C335.07 394.22 334.78 395.47 334.8 395.6" fill="none" stroke="#0000ff" stroke-width="2" stroke-linejoin="round" stroke-linecap="round"/>
<path d="M74.9 406.8C76.72 406.87 83.2 406.97 85.8 407.2C88.4 407.43 89.48 407.93 90.5 408.2C91.52 408.47 91.67 408.7 91.9 408.8C91.95 407.25 92.15 401.05 92.2 399.5C92.42 399.92 92.6 401.55 93.5 402C94.4 402.45 96.3 402.07 97.6 402.2C98.9 402.33 100.68 402.7 101.3 402.8C101.35 404.37 101.55 410.63 101.6 412.2C101.85 411.53 102.25 409.1 103.1 408.2C103.95 407.3 105.35 407.12 106.7 406.8C108.05 406.48 110.45 406.38 111.2 406.3C111.25 404.87 111.45 399.13 111.5 397.7C111.92 398.23 112.53 400.3 114 400.9C115.47 401.5 119.12 401.22 120.3 401.3C121.48 401.38 120.97 401.38 121.1 401.4C121.15 403.05 121.35 409.65 121.4 411.3C121.67 410.55 121.52 407.85 123 406.8C124.48 405.75 128.97 405.3 130.3 405C131.63 404.7 130.88 405 131 405C131.03 403.48 131.17 397.42 131.2 395.9C131.65 396.43 132.6 398.5 133.9 399.1C135.2 399.7 137.88 399.42 139 399.5C140.12 399.58 140.33 399.58 140.6 399.6C140.65 401.18 140.85 407.52 140.9 409.1C141.13 408.48 141.47 406.23 142.3 405.4C143.13 404.57 144.55 404.47 145.9 404.1C147.25 403.73 149.65 403.35 150.4 403.2C150.43 401.75 150.57 395.95 150.6 394.5C151.03 395.03 151.72 397.02 153.2 397.7C154.68 398.38 158.4 398.43 159.5 398.6C160.6 398.77 159.75 398.68 159.8 398.7C159.83 400.35 159.97 406.95 160 408.6C160.37 407.92 160.62 405.48 162.2 404.5C163.78 403.52 168.2 403.02 169.5 402.7C170.8 402.38 169.92 402.62 170 402.6C170.03 401.1 170.17 395.1 170.2 393.6C170.62 394.13 171.15 396.03 172.7 396.8C174.25 397.57 178.32 397.95 179.5 398.2C180.68 398.45 179.75 398.28 179.8 398.3C179.83 399.93 179.97 406.47 180 408.1C180.37 407.43 180.77 405.15 182.2 404.1C183.63 403.05 187.42 402.2 188.6 401.8C189.78 401.4 189.18 401.72 189.3 401.7C189.33 400.35 189.47 394.95 189.5 393.6C189.87 394.12 190.78 395.97 191.7 396.7C192.62 397.43 194 397.68 195 398C196 398.32 197.13 398.47 197.7 398.6C198.27 398.73 198.28 398.77 198.4 398.8C198.45 400.23 198.65 405.97 198.7 407.4C198.97 406.97 199.58 405.53 200.3 404.8C201.02 404.07 201.95 403.33 203 403C204.05 402.67 205.52 402.7 206.6 402.8C207.68 402.9 208.83 402.68 209.5 403.6C210.17 404.52 210.12 406.18 210.6 408.3C211.08 410.42 211.72 413.33 212.4 416.3C213.08 419.27 213.95 422.83 214.7 426.1C215.45 429.37 216.2 432.75 216.9 435.9C217.6 439.05 218.28 442.22 218.9 445C219.52 447.78 219.85 448.77 220.6 452.6C221.35 456.43 222.67 464.03 223.4 468C224.13 471.97 224.43 473.67 225 476.4C225.57 479.13 226.22 481.75 226.8 484.4C227.38 487.05 227.65 490.7 228.5 492.3C229.35 493.9 230.73 493.92 231.9 494C233.07 494.08 234.67 493.55 235.5 492.8C236.33 492.05 236.58 491.88 236.9 489.5C237.22 487.12 237.17 481.08 237.4 478.5C237.63 475.92 237.68 474.92 238.3 474C238.92 473.08 240.03 472.88 241.1 473C242.17 473.12 243.68 473.47 244.7 474.7C245.72 475.93 246.6 478.15 247.2 480.4C247.8 482.65 247.88 485.97 248.3 488.2C248.72 490.43 249 492.7 249.7 493.8C250.4 494.9 251.5 494.87 252.5 494.8C253.5 494.73 254.98 494.7 255.7 493.4C256.42 492.1 256.6 489.45 256.8 487C257 484.55 256.73 480.83 256.9 478.7C257.07 476.57 257.18 475.12 257.8 474.2C258.42 473.28 259.53 473.08 260.6 473.2C261.67 473.32 263.18 473.67 264.2 474.9C265.22 476.13 266.1 478.35 266.7 480.6C267.3 482.85 267.38 486.32 267.8 488.4C268.22 490.48 268.5 492.15 269.2 493.1C269.9 494.05 271 494.17 272 494.1C273 494.03 274.48 494 275.2 492.7C275.92 491.4 276.1 488.52 276.3 486.3C276.5 484.08 276.23 481.3 276.4 479.4C276.57 477.5 276.68 475.82 277.3 474.9C277.92 473.98 279.03 473.78 280.1 473.9C281.17 474.02 282.68 474.37 283.7 475.6C284.72 476.83 285.6 479.05 286.2 481.3C286.8 483.55 286.88 486.9 287.3 489.1C287.72 491.3 288 493.43 288.7 494.5C289.4 495.57 290.5 495.57 291.5 495.5C292.5 495.43 293.98 495.4 294.7 494.1C295.42 492.8 295.58 489.85 295.8 487.7C296.02 485.55 295.82 483.03 296 481.2C296.18 479.37 296.28 477.62 296.9 476.7C297.52 475.78 298.63 475.58 299.7 475.7C300.77 475.82 302.28 476.17 303.3 477.4C304.32 478.63 305.2 480.85 305.8 483.1C306.4 485.35 306.48 488.88 306.9 490.9C307.32 492.92 307.6 494.32 308.3 495.2C309 496.08 310.1 496.27 311.1 496.2C312.1 496.13 313.58 496.1 314.3 494.8C315.02 493.5 315.2 490.43 315.4 488.4C315.6 486.37 315.33 484.32 315.5 482.6C315.67 480.88 315.78 479.02 316.4 478.1C317.02 477.18 318.13 476.98 319.2 477.1C320.27 477.22 321.78 477.57 322.8 478.8C323.82 480.03 324.7 482.25 325.3 484.5C325.9 486.75 325.98 490.1 326.4 492.3C326.82 494.5 327.1 496.63 327.8 497.7C328.5 498.77 329.6 498.77 330.6 498.7C331.6 498.63 333.08 498.6 333.8 497.3C334.52 496 334.72 491.97 334.9 490.9" fill="none" stroke="#0000ff" stroke-width="2" stroke-linejoin="round" stroke-linecap="round"/>
<path d="M74.9 307.6C76.15 307.57 80.18 307.38 82.4 307.4C84.62 307.42 86.77 307.52 88.2 307.7C89.63 307.88 90.4 308.18 91 308.5C91.6 308.82 91.67 309.42 91.8 309.6C91.86 311.7 91.98 319.57 92.15 322.2C92.32 324.83 92.41 324.62 92.8 325.4C93.19 326.18 93.8 326.6 94.5 326.9C95.2 327.2 95.93 327.18 97 327.2C98.07 327.22 100.15 327.25 100.9 327C101.65 326.75 101.4 325.92 101.5 325.7C101.59 323.22 101.8 313.8 102.05 310.8C102.3 307.8 102.56 308.42 103 307.7C103.44 306.98 104.08 306.73 104.7 306.5C105.32 306.27 105.93 306.25 106.7 306.3C107.47 306.35 108.6 306.55 109.3 306.8C110 307.05 110.57 307.35 110.9 307.8C111.23 308.25 111.23 309.22 111.3 309.5C111.34 311.42 111.4 318.55 111.55 321C111.7 323.45 111.81 323.42 112.2 324.2C112.59 324.98 113.2 325.4 113.9 325.7C114.6 326 115.27 325.98 116.4 326C117.53 326.02 119.88 326.05 120.7 325.8C121.52 325.55 121.2 324.72 121.3 324.5C121.39 321.98 121.6 312.43 121.85 309.4C122.1 306.37 122.36 307.02 122.8 306.3C123.24 305.58 123.88 305.33 124.5 305.1C125.12 304.87 125.73 304.85 126.5 304.9C127.27 304.95 128.4 305.15 129.1 305.4C129.8 305.65 130.37 305.95 130.7 306.4C131.03 306.85 131.03 307.82 131.1 308.1C131.14 309.97 131.2 316.9 131.35 319.3C131.5 321.7 131.61 321.72 132 322.5C132.39 323.28 133 323.7 133.7 324C134.4 324.3 135.12 324.28 136.2 324.3C137.28 324.32 139.43 324.35 140.2 324.1C140.97 323.85 140.7 323.02 140.8 322.8C140.89 320.28 141.1 310.73 141.35 307.7C141.6 304.67 141.86 305.32 142.3 304.6C142.74 303.88 143.38 303.63 144 303.4C144.62 303.17 145.23 303.15 146 303.2C146.77 303.25 147.88 303.45 148.6 303.7C149.32 303.95 149.95 304.25 150.3 304.7C150.65 305.15 150.63 306.12 150.7 306.4C150.74 308.42 150.8 315.95 150.95 318.5C151.1 321.05 151.21 320.92 151.6 321.7C151.99 322.48 152.6 322.9 153.3 323.2C154 323.5 154.83 323.48 155.8 323.5C156.77 323.52 158.45 323.55 159.1 323.3C159.75 323.05 159.6 322.22 159.7 322C159.79 319.5 160 310.02 160.25 307C160.5 303.98 160.76 304.62 161.2 303.9C161.64 303.18 162.28 302.93 162.9 302.7C163.52 302.47 164.13 302.45 164.9 302.5C165.67 302.55 166.72 302.75 167.5 303C168.28 303.25 169.18 303.55 169.6 304C170.02 304.45 169.93 305.42 170 305.7C170.04 307.7 170.1 315.17 170.25 317.7C170.4 320.23 170.51 320.12 170.9 320.9C171.29 321.68 171.9 322.1 172.6 322.4C173.3 322.7 174 322.68 175.1 322.7C176.2 322.72 178.42 322.75 179.2 322.5C179.98 322.25 179.7 321.42 179.8 321.2C179.89 318.75 180.1 309.47 180.35 306.5C180.6 303.53 180.86 304.12 181.3 303.4C181.74 302.68 182.38 302.43 183 302.2C183.62 301.97 184.23 301.95 185 302C185.77 302.05 186.92 302.25 187.6 302.5C188.28 302.75 188.78 303.05 189.1 303.5C189.42 303.95 189.43 304.92 189.5 305.2C189.54 307.2 189.6 314.67 189.75 317.2C189.9 319.73 190.01 319.62 190.4 320.4C190.79 321.18 191.4 321.6 192.1 321.9C192.8 322.2 193.55 322.18 194.6 322.2C195.65 322.22 197.67 322.25 198.4 322C199.13 321.75 198.9 320.92 199 320.7C199.09 318.45 199.3 309.93 199.55 307.2C199.8 304.47 200.06 304.98 200.5 304.3C200.94 303.62 201.58 303.37 202.2 303.1C202.82 302.83 203.43 302.67 204.2 302.7C204.97 302.73 205.95 302.98 206.8 303.3C207.65 303.62 208.65 303.67 209.3 304.6C209.95 305.53 209.88 305.82 210.7 308.9C211.52 311.98 213.02 317.77 214.2 323.1C215.38 328.43 216.62 334.98 217.8 340.9C218.98 346.82 220.12 352.68 221.3 358.6C222.48 364.52 223.9 371.47 224.9 376.4C225.9 381.33 226.63 385.17 227.3 388.2C227.97 391.23 228.13 393.13 228.9 394.6C229.67 396.07 230.85 396.77 231.9 397C232.95 397.23 234.27 396.92 235.2 396C236.13 395.08 236.97 392.68 237.5 391.5C238.03 390.32 238.25 389.33 238.4 388.9C238.44 390.72 238.17 397.98 238.65 399.8C239.13 401.62 240.33 399.57 241.3 399.8C242.28 400.03 243.58 400.45 244.5 401.2C245.42 401.95 246.3 402.87 246.8 404.3C247.3 405.73 247.38 408.88 247.5 409.8C247.6 407.53 248 398.47 248.1 396.2C248.78 396.35 250.9 397.27 252.2 397.1C253.5 396.93 255.05 396.15 255.9 395.2C256.75 394.25 256.98 392.45 257.3 391.4C257.62 390.35 257.72 389.32 257.8 388.9C257.84 390.72 257.57 397.98 258.05 399.8C258.53 401.62 259.72 399.57 260.7 399.8C261.68 400.03 262.98 400.45 263.9 401.2C264.82 401.95 265.7 402.87 266.2 404.3C266.7 405.73 266.78 408.88 266.9 409.8C267 407.53 267.4 398.47 267.5 396.2C268.18 396.35 270.3 397.27 271.6 397.1C272.9 396.93 274.45 396.15 275.3 395.2C276.15 394.25 276.38 392.23 276.7 391.4C277.02 390.57 277.12 390.4 277.2 390.2C277.24 392.02 276.97 399.28 277.45 401.1C277.93 402.92 279.12 400.87 280.1 401.1C281.07 401.33 282.38 401.75 283.3 402.5C284.22 403.25 285.1 404.17 285.6 405.6C286.1 407.03 286.18 410.18 286.3 411.1C286.4 408.83 286.8 399.77 286.9 397.5C287.58 397.65 289.7 398.57 291 398.4C292.3 398.23 293.85 397.45 294.7 396.5C295.55 395.55 295.78 393.45 296.1 392.7C296.42 391.95 296.52 392.12 296.6 392C296.64 393.82 296.37 401.08 296.85 402.9C297.33 404.72 298.52 402.67 299.5 402.9C300.48 403.13 301.78 403.55 302.7 404.3C303.62 405.05 304.5 405.97 305 407.4C305.5 408.83 305.58 411.98 305.7 412.9C305.8 410.63 306.2 401.57 306.3 399.3C306.98 399.45 309.1 400.37 310.4 400.2C311.7 400.03 313.25 399.25 314.1 398.3C314.95 397.35 315.18 395.15 315.5 394.5C315.82 393.85 315.92 394.42 316 394.4C316.04 396.22 315.77 403.48 316.25 405.3C316.73 407.12 317.92 405.07 318.9 405.3C319.88 405.53 321.18 405.95 322.1 406.7C323.02 407.45 323.9 408.37 324.4 409.8C324.9 411.23 324.98 414.38 325.1 415.3C325.2 413.03 325.6 403.97 325.7 401.7C326.38 401.85 328.5 402.77 329.8 402.6C331.1 402.43 332.65 401.65 333.5 400.7C334.35 399.75 334.58 398.08 334.9 396.9C335.22 395.72 335.32 394.15 335.4 393.6C335.45 395.42 335.27 402.52 335.7 404.5C336.13 406.48 337.08 404.95 338 405.5C338.92 406.05 340.3 406.88 341.2 407.8C342.1 408.72 342.85 409.75 343.4 411C343.95 412.25 344.32 414.58 344.5 415.3C344.65 413.18 345.25 404.72 345.4 402.6C345.67 402.55 346.73 402.35 347 402.3" fill="none" stroke="#00ff00" stroke-width="2.25" stroke-linejoin="round" stroke-linecap="round"/>
<path d="M74.9 406.8C76.72 406.87 83.2 406.97 85.8 407.2C88.4 407.43 89.48 407.93 90.5 408.2C91.52 408.47 91.67 408.7 91.9 408.8C91.95 407.25 92.15 401.05 92.2 399.5C92.42 399.92 92.6 401.55 93.5 402C94.4 402.45 96.3 402.07 97.6 402.2C98.9 402.33 100.68 402.7 101.3 402.8C101.35 404.37 101.55 410.63 101.6 412.2C101.85 411.53 102.25 409.1 103.1 408.2C103.95 407.3 105.35 407.12 106.7 406.8C108.05 406.48 110.45 406.38 111.2 406.3C111.25 404.87 111.45 399.13 111.5 397.7C111.92 398.23 112.53 400.3 114 400.9C115.47 401.5 119.12 401.22 120.3 401.3C121.48 401.38 120.97 401.38 121.1 401.4C121.15 403.05 121.35 409.65 121.4 411.3C121.67 410.55 121.52 407.85 123 406.8C124.48 405.75 128.97 405.3 130.3 405C131.63 404.7 130.88 405 131 405C131.03 403.48 131.17 397.42 131.2 395.9C131.65 396.43 132.6 398.5 133.9 399.1C135.2 399.7 137.88 399.42 139 399.5C140.12 399.58 140.33 399.58 140.6 399.6C140.65 401.18 140.85 407.52 140.9 409.1C141.13 408.48 141.47 406.23 142.3 405.4C143.13 404.57 144.55 404.47 145.9 404.1C147.25 403.73 149.65 403.35 150.4 403.2C150.43 401.75 150.57 395.95 150.6 394.5C151.03 395.03 151.72 397.02 153.2 397.7C154.68 398.38 158.4 398.43 159.5 398.6C160.6 398.77 159.75 398.68 159.8 398.7C159.83 400.35 159.97 406.95 160 408.6C160.37 407.92 160.62 405.48 162.2 404.5C163.78 403.52 168.2 403.02 169.5 402.7C170.8 402.38 169.92 402.62 170 402.6C170.03 401.1 170.17 395.1 170.2 393.6C170.62 394.13 171.15 396.03 172.7 396.8C174.25 397.57 178.32 397.95 179.5 398.2C180.68 398.45 179.75 398.28 179.8 398.3C179.83 399.93 179.97 406.47 180 408.1C180.37 407.43 180.77 405.15 182.2 404.1C183.63 403.05 187.42 402.2 188.6 401.8C189.78 401.4 189.18 401.72 189.3 401.7C189.33 400.35 189.47 394.95 189.5 393.6C189.87 394.12 190.78 395.97 191.7 396.7C192.62 397.43 194 397.68 195 398C196 398.32 197.13 398.47 197.7 398.6C198.27 398.73 198.28 398.77 198.4 398.8C198.45 400.23 198.65 405.97 198.7 407.4C198.97 406.97 199.58 405.53 200.3 404.8C201.02 404.07 201.95 403.33 203 403C204.05 402.67 205.63 402.65 206.6 402.8C207.57 402.95 208.28 402.98 208.8 403.9C209.32 404.82 209.27 406.23 209.7 408.3C210.13 410.37 210.73 413.33 211.4 416.3C212.07 419.27 212.95 422.83 213.7 426.1C214.45 429.37 215.2 432.75 215.9 435.9C216.6 439.05 217.28 442.22 217.9 445C218.52 447.78 218.82 448.77 219.6 452.6C220.38 456.43 221.82 464.03 222.6 468C223.38 471.97 223.6 473.33 224.3 476.4C225 479.47 226.1 483.33 226.8 486.4C227.5 489.47 227.65 492.98 228.5 494.8C229.35 496.62 230.78 497.02 231.9 497.3C233.02 497.58 234.37 497.2 235.2 496.5C236.03 495.8 236.53 495.6 236.9 493.1C237.27 490.6 237.17 484.18 237.4 481.5C237.63 478.82 237.68 477.92 238.3 477C238.92 476.08 240.03 475.88 241.1 476C242.17 476.12 243.68 476.47 244.7 477.7C245.72 478.93 246.6 481.15 247.2 483.4C247.8 485.65 247.88 488.97 248.3 491.2C248.72 493.43 249 495.7 249.7 496.8C250.4 497.9 251.5 497.87 252.5 497.8C253.5 497.73 254.98 497.7 255.7 496.4C256.42 495.1 256.6 492.45 256.8 490C257 487.55 256.73 483.83 256.9 481.7C257.07 479.57 257.18 478.12 257.8 477.2C258.42 476.28 259.53 476.08 260.6 476.2C261.67 476.32 263.18 476.67 264.2 477.9C265.22 479.13 266.1 481.35 266.7 483.6C267.3 485.85 267.38 489.32 267.8 491.4C268.22 493.48 268.5 495.15 269.2 496.1C269.9 497.05 271 497.17 272 497.1C273 497.03 274.48 497 275.2 495.7C275.92 494.4 276.1 491.52 276.3 489.3C276.5 487.08 276.23 484.3 276.4 482.4C276.57 480.5 276.68 478.82 277.3 477.9C277.92 476.98 279.03 476.78 280.1 476.9C281.17 477.02 282.68 477.37 283.7 478.6C284.72 479.83 285.6 482.05 286.2 484.3C286.8 486.55 286.88 489.9 287.3 492.1C287.72 494.3 288 496.43 288.7 497.5C289.4 498.57 290.5 498.57 291.5 498.5C292.5 498.43 293.98 498.4 294.7 497.1C295.42 495.8 295.58 492.85 295.8 490.7C296.02 488.55 295.82 486.03 296 484.2C296.18 482.37 296.28 480.62 296.9 479.7C297.52 478.78 298.63 478.58 299.7 478.7C300.77 478.82 302.28 479.17 303.3 480.4C304.32 481.63 305.2 483.85 305.8 486.1C306.4 488.35 306.48 491.88 306.9 493.9C307.32 495.92 307.6 497.32 308.3 498.2C309 499.08 310.1 499.27 311.1 499.2C312.1 499.13 313.58 499.1 314.3 497.8C315.02 496.5 315.2 493.43 315.4 491.4C315.6 489.37 315.33 487.32 315.5 485.6C315.67 483.88 315.78 482.02 316.4 481.1C317.02 480.18 318.13 479.98 319.2 480.1C320.27 480.22 321.78 480.57 322.8 481.8C323.82 483.03 324.7 485.25 325.3 487.5C325.9 489.75 325.98 493.1 326.4 495.3C326.82 497.5 327.1 499.63 327.8 500.7C328.5 501.77 329.6 501.77 330.6 501.7C331.6 501.63 333.08 501.6 333.8 500.3C334.52 499 334.67 495.9 334.9 493.9C335.13 491.9 335.02 490.07 335.2 488.3C335.38 486.53 335.47 484.38 336 483.3C336.53 482.22 337.42 481.75 338.4 481.8C339.38 481.85 340.9 482.47 341.9 483.6C342.9 484.73 343.87 486.7 344.4 488.6C344.93 490.5 344.87 492.63 345.1 495C345.33 497.37 345.57 501.25 345.8 502.8C346.03 504.35 346.38 504.05 346.5 504.3" fill="none" stroke="#00ff00" stroke-width="2.25" stroke-linejoin="round" stroke-linecap="round"/>
<line x1="242.7" y1="309.5" x2="271.9" y2="309.5" stroke="#ff0000" stroke-width="1.8" />
<text x="274.3" y="314.1" font-size="12.55" text-anchor="start" font-weight="bold" font-family="'Liberation Serif', serif" >Structure B</text>
<line x1="242.7" y1="325.1" x2="271.9" y2="325.1" stroke="#0000ff" stroke-width="1.8" />
<text x="274.3" y="329.3" font-size="12.55" text-anchor="start" font-weight="bold" font-family="'Liberation Serif', serif" >Structure C</text>
<line x1="242.7" y1="341.2" x2="271.9" y2="341.2" stroke="#00ff00" stroke-width="1.8" />
<text x="274.3" y="344.6" font-size="12.55" text-anchor="start" font-weight="bold" font-family="'Liberation Serif', serif" >Structure D</text>
<text x="91.2" y="339.9" font-size="12.6" text-anchor="start" font-weight="bold" font-family="'Liberation Serif', serif" >E</text>
<text x="99.6" y="342.9" font-size="12.6" text-anchor="start" font-weight="bold" font-family="'Liberation Serif', serif" >c</text>
<text x="90.8" y="392.4" font-size="12.6" text-anchor="start" font-weight="bold" font-family="'Liberation Serif', serif" >E</text>
<text x="99.6" y="394.9" font-size="11.5" text-anchor="start" font-weight="bold" font-family="'Liberation Serif', serif" >v</text>
<line x1="100" y1="460" x2="147" y2="460" stroke="#000" stroke-width="1.7" />
<polygon points="145.5,457.3 157,460 145.5,462.8" fill="#000"/>
<text x="104.4" y="474.8" font-size="12" text-anchor="start" font-weight="bold" font-family="'Liberation Serif', serif" fill="#222">[0001]</text>
<text x="104.4" y="490.3" font-size="12.4" text-anchor="start" font-weight="bold" font-family="'Liberation Serif', serif" >140 mA</text>
<path d="M428.6 321.3C430.02 321.42 434.17 321.85 437.1 322C440.03 322.15 443.35 322.15 446.2 322.2C449.05 322.25 452.87 322.28 454.2 322.3C454.28 320.17 454.37 312.08 454.7 309.5C455.03 306.92 455.57 307.48 456.2 306.8C456.83 306.12 457.15 305.93 458.5 305.4C459.85 304.87 461.82 304.05 464.3 303.6C466.78 303.15 470.37 302.85 473.4 302.7C476.43 302.55 480.02 302.62 482.5 302.7C484.98 302.78 487.05 302.85 488.3 303.2C489.55 303.55 489.72 304.53 490 304.8C490.07 306.87 490.15 314.78 490.4 317.2C490.65 319.62 491 318.77 491.5 319.3C492 319.83 491.72 319.9 493.4 320.4C495.08 320.9 498.72 321.62 501.6 322.3C504.48 322.98 507.32 323.75 510.7 324.5C514.08 325.25 520.03 326.42 521.9 326.8C522.05 324.4 522.65 314.8 522.8 312.4C523.03 312.23 523.65 311.62 524.2 311.4C524.75 311.18 525.02 311.18 526.1 311.1C527.18 311.02 528.75 310.25 530.7 310.9C532.65 311.55 536 313.6 537.8 315C539.6 316.4 540.32 317.7 541.5 319.3C542.68 320.9 543.15 321.77 544.9 324.6C546.65 327.43 549.87 332.45 552 336.3C554.13 340.15 555.8 343.92 557.7 347.7C559.6 351.48 561.27 355.22 563.4 359C565.53 362.78 568.13 367.08 570.5 370.4C572.87 373.72 575.6 376.87 577.6 378.9C579.6 380.93 580.95 381.75 582.5 382.6C584.05 383.45 585.55 383.95 586.9 384C588.25 384.05 589.98 383.08 590.6 382.9C590.77 385.22 591.43 394.48 591.6 396.8C592.95 396.98 596.93 397.5 599.7 397.9C602.47 398.3 605.6 398.55 608.2 399.2C610.8 399.85 613.22 400.87 615.3 401.8C617.38 402.73 619.15 403.53 620.7 404.8C622.25 406.07 623.95 408.63 624.6 409.4C624.7 407.22 625.1 398.48 625.2 396.3C625.75 396.25 627.13 395.82 628.5 396C629.87 396.18 631.75 397.08 633.4 397.4C635.05 397.72 636.38 397.85 638.4 397.9C640.42 397.95 643.13 398.1 645.5 397.7C647.87 397.3 650.7 396.4 652.6 395.5C654.5 394.6 655.73 393.28 656.9 392.3C658.07 391.32 659.15 390.05 659.6 389.6C659.75 391.55 660.35 399.35 660.5 401.3C661.95 401.23 666.22 400.8 669.2 400.9C672.18 401 675.68 401.32 678.4 401.9C681.12 402.48 683.07 403.15 685.5 404.4C687.93 405.65 691.75 408.57 693 409.4C693.17 407.3 693.83 398.9 694 396.8C694.6 396.88 696.53 397.15 697.6 397.3C698.67 397.45 699.93 397.63 700.4 397.7" fill="none" stroke="#ff0000" stroke-width="2" stroke-linejoin="round" stroke-linecap="round"/>
<path d="M428.6 396.4C429.68 396.57 432.83 397.17 435.1 397.4C437.37 397.63 439.02 397.73 442.2 397.8C445.38 397.87 452.2 397.8 454.2 397.8C454.33 399.42 454.87 405.88 455 407.5C455.47 407.28 456.73 406.82 457.8 406.2C458.87 405.58 459.85 404.43 461.4 403.8C462.95 403.17 464.33 402.75 467.1 402.4C469.87 402.05 475 401.7 478 401.7C481 401.7 483.17 402.17 485.1 402.4C487.03 402.63 488.85 402.98 489.6 403.1C489.68 401.5 490.02 395.1 490.1 393.5C490.68 393.8 492.07 394.82 493.6 395.3C495.13 395.78 498 395.98 499.3 396.4C500.6 396.82 499.62 397.27 501.4 397.8C503.18 398.33 506.68 398.95 510 399.6C513.32 400.25 519.42 401.35 521.3 401.7C521.57 403.47 522.63 410.53 522.9 412.3C523.23 412.25 524.05 412.32 524.9 412C525.75 411.68 526.33 410.42 528 410.4C529.67 410.38 532.58 410.65 534.9 411.9C537.22 413.15 539.75 415.42 541.9 417.9C544.05 420.38 545.82 423.15 547.8 426.8C549.78 430.45 551.77 435.62 553.8 439.8C555.83 443.98 558.15 448.05 560 451.9C561.85 455.75 563.25 459.58 564.9 462.9C566.55 466.22 568.23 469.23 569.9 471.8C571.57 474.37 573.07 476.47 574.9 478.3C576.73 480.13 579.05 481.87 580.9 482.8C582.75 483.73 584.35 483.83 586 483.9C587.65 483.97 590 483.32 590.8 483.2C590.98 481.58 591.72 475.12 591.9 473.5C592.1 473.4 591.37 472.8 593.1 472.9C594.83 473 598.83 473.42 602.3 474.1C605.77 474.78 611.12 476.1 613.9 477C616.68 477.9 617.65 478.73 619 479.5C620.35 480.27 621.07 480.6 622 481.6C622.93 482.6 624.17 484.85 624.6 485.5C624.73 486.77 624.88 491.25 625.4 493.1C625.92 494.95 626.27 495.85 627.7 496.6C629.13 497.35 632.27 497.4 634 497.6C635.73 497.8 636.42 497.85 638.1 497.8C639.78 497.75 641.48 497.95 644.1 497.3C646.72 496.65 651.28 495.27 653.8 493.9C656.32 492.53 658.03 490.78 659.2 489.1C660.37 487.42 660.53 484.68 660.8 483.8C660.88 482.9 660.85 479.47 661.3 478.4C661.75 477.33 662.33 477.63 663.5 477.4C664.67 477.17 665.88 476.97 668.3 477C670.72 477.03 674.78 477.1 678 477.6C681.22 478.1 685.1 478.68 687.6 480C690.1 481.32 692.1 484.58 693 485.5C693.15 487.3 693.75 494.5 693.9 496.3C694.33 496.47 695.42 497.08 696.5 497.3C697.58 497.52 699.75 497.55 700.4 497.6" fill="none" stroke="#ff0000" stroke-width="2" stroke-linejoin="round" stroke-linecap="round"/>
<path d="M428.6 321.9C430.02 322.02 434.17 322.45 437.1 322.6C440.03 322.75 443.35 322.75 446.2 322.8C449.05 322.85 452.87 322.88 454.2 322.9C454.28 320.77 454.37 312.68 454.7 310.1C455.03 307.52 455.57 308.08 456.2 307.4C456.83 306.72 457.15 306.53 458.5 306C459.85 305.47 461.82 304.65 464.3 304.2C466.78 303.75 470.37 303.45 473.4 303.3C476.43 303.15 480.02 303.22 482.5 303.3C484.98 303.38 487.05 303.45 488.3 303.8C489.55 304.15 489.72 305.13 490 305.4C490.07 307.47 490.15 315.38 490.4 317.8C490.65 320.22 491 319.37 491.5 319.9C492 320.43 491.72 320.58 493.4 321C495.08 321.42 498.27 322.12 501.6 322.4C504.93 322.68 509.93 322.63 513.4 322.7C516.87 322.77 520.9 322.78 522.4 322.8C522.48 320.68 522.57 312.7 522.9 310.1C523.23 307.5 523.72 307.95 524.4 307.2C525.08 306.45 525.5 306.17 527 305.6C528.5 305.03 530.82 304.18 533.4 303.8C535.98 303.42 540.07 303.3 542.5 303.3C544.93 303.3 547.08 303.87 548 303.8C548.92 303.73 546.63 302.7 548 302.9C549.37 303.1 554.53 304.5 556.2 305C557.87 305.5 557.7 305.75 558 305.9C558.15 306.47 558 308.08 558.9 309.3C559.8 310.52 561.58 311.35 563.4 313.2C565.22 315.05 567.67 317.6 569.8 320.4C571.93 323.2 571.7 323.3 576.2 330C580.7 336.7 591.17 352.75 596.8 360.6C602.43 368.45 607.08 373.28 610 377.1C612.92 380.92 612.77 381.48 614.3 383.5C615.83 385.52 617.55 387.48 619.2 389.2C620.85 390.92 623.37 393.03 624.2 393.8C624.55 393.57 625.95 392.63 626.3 392.4C627.13 392.55 629.28 393.03 631.3 393.3C633.32 393.57 636.03 393.95 638.4 394C640.77 394.05 643.37 393.93 645.5 393.6C647.63 393.27 649.42 392.85 651.2 392C652.98 391.15 654.8 389.55 656.2 388.5C657.6 387.45 659.03 386.17 659.6 385.7C659.77 387.67 660.43 395.53 660.6 397.5C662.03 397.37 666.23 396.67 669.2 396.7C672.17 396.73 675.8 397.12 678.4 397.7C681 398.28 682.55 399.02 684.8 400.2C687.05 401.38 690.72 404.03 691.9 404.8C692.18 402.8 693.32 394.8 693.6 392.8C694.15 392.92 695.77 393.3 696.9 393.5C698.03 393.7 699.82 393.92 700.4 394" fill="none" stroke="#0000ff" stroke-width="2" stroke-linejoin="round" stroke-linecap="round"/>
<path d="M428.6 397.1C429.68 397.27 432.83 397.87 435.1 398.1C437.37 398.33 439.02 398.43 442.2 398.5C445.38 398.57 452.2 398.5 454.2 398.5C454.33 400.12 454.87 406.58 455 408.2C455.47 407.98 456.73 407.52 457.8 406.9C458.87 406.28 459.85 405.13 461.4 404.5C462.95 403.87 464.33 403.45 467.1 403.1C469.87 402.75 475 402.4 478 402.4C481 402.4 483.17 402.87 485.1 403.1C487.03 403.33 488.85 403.68 489.6 403.8C489.68 402.2 490.02 395.8 490.1 394.2C490.68 394.5 492.07 395.52 493.6 396C495.13 396.48 496.57 396.8 499.3 397.1C502.03 397.4 506.2 397.6 510 397.8C513.8 398 520.08 398.22 522.1 398.3C522.22 399.95 522.68 406.55 522.8 408.2C522.85 408.25 523.05 408.45 523.1 408.5C523.5 408.12 524.35 406.95 525.5 406.2C526.65 405.45 528.08 404.52 530 404C531.92 403.48 534.52 403.3 537 403.1C539.48 402.9 541.93 402.68 544.9 402.8C547.87 402.92 552.37 403.72 554.8 403.8C557.23 403.88 558.72 403.38 559.5 403.3C560.23 404.17 562.05 405.95 563.9 408.5C565.75 411.05 568.07 414.95 570.6 418.6C573.13 422.25 576.3 426.78 579.1 430.4C581.9 434.02 584.87 437.2 587.4 440.3C589.93 443.4 592.28 446.5 594.3 449C596.32 451.5 597.2 452.37 599.5 455.3C601.8 458.23 605.12 462.6 608.1 466.6C611.08 470.6 614.73 475.73 617.4 479.3C620.07 482.87 622.98 486.55 624.1 488C624.32 488.47 624.92 490.05 625.4 490.8C625.88 491.55 625.65 492.07 627 492.5C628.35 492.93 630.65 493.2 633.5 493.4C636.35 493.6 640.92 494.15 644.1 493.7C647.28 493.25 650.23 492 652.6 490.7C654.97 489.4 657.35 486.7 658.3 485.9C658.63 484.28 659.6 478.18 660.3 476.2C661 474.22 661.57 474.5 662.5 474C663.43 473.5 663.93 473.43 665.9 473.2C667.87 472.97 671.08 472.3 674.3 472.6C677.52 472.9 682.2 473.58 685.2 475C688.2 476.42 691.12 480.08 692.3 481.1C692.5 482.88 693.3 490.02 693.5 491.8C693.92 491.97 694.85 492.58 696 492.8C697.15 493.02 699.67 493.05 700.4 493.1" fill="none" stroke="#0000ff" stroke-width="2" stroke-linejoin="round" stroke-linecap="round"/>
<path d="M428.6 321.3C430.02 321.42 434.17 321.85 437.1 322C440.03 322.15 443.35 322.15 446.2 322.2C449.05 322.25 452.87 322.28 454.2 322.3C454.28 320.17 454.37 312.08 454.7 309.5C455.03 306.92 455.57 307.48 456.2 306.8C456.83 306.12 457.15 305.93 458.5 305.4C459.85 304.87 461.82 304.05 464.3 303.6C466.78 303.15 470.37 302.85 473.4 302.7C476.43 302.55 480.02 302.62 482.5 302.7C484.98 302.78 487.05 302.85 488.3 303.2C489.55 303.55 489.72 304.53 490 304.8C490.07 306.87 490.15 314.78 490.4 317.2C490.65 319.62 491 318.77 491.5 319.3C492 319.83 491.72 319.98 493.4 320.4C495.08 320.82 498.27 321.52 501.6 321.8C504.93 322.08 509.93 322.03 513.4 322.1C516.87 322.17 520.9 322.18 522.4 322.2C522.48 320.08 522.57 312.1 522.9 309.5C523.23 306.9 523.72 307.35 524.4 306.6C525.08 305.85 525.5 305.57 527 305C528.5 304.43 530.82 303.58 533.4 303.2C535.98 302.82 540.07 302.7 542.5 302.7C544.93 302.7 546.18 302.97 548 303.2C549.82 303.43 551.97 303.73 553.4 304.1C554.83 304.47 556.07 305.18 556.6 305.4C556.75 305.07 557.35 303.73 557.5 303.4C558.18 303.97 559.85 305.17 561.6 306.8C563.35 308.43 565.73 310.63 568 313.2C570.27 315.77 573.07 319.4 575.2 322.2C577.33 325 577.2 324.95 580.8 330C584.4 335.05 591.7 345.07 596.8 352.5C601.9 359.93 608.02 369.62 611.4 374.6C614.78 379.58 615.32 380.23 617.1 382.4C618.88 384.57 620.65 386.35 622.1 387.6C623.55 388.85 625.18 389.52 625.8 389.9C625.87 390.62 625.8 393.25 626.2 394.2C626.6 395.15 627.35 395.18 628.2 395.6C629.05 396.02 629.6 396.37 631.3 396.7C633 397.03 636.03 397.48 638.4 397.6C640.77 397.72 643.13 397.8 645.5 397.4C647.87 397 650.7 396.1 652.6 395.2C654.5 394.3 655.73 393 656.9 392C658.07 391 659.15 389.67 659.6 389.2C659.75 391.17 660.35 399.03 660.5 401C661.95 400.93 666.22 400.5 669.2 400.6C672.18 400.7 675.68 401.02 678.4 401.6C681.12 402.18 683.07 402.85 685.5 404.1C687.93 405.35 691.75 408.27 693 409.1C693.17 407 693.83 398.6 694 396.5C694.6 396.58 696.53 396.85 697.6 397C698.67 397.15 699.93 397.33 700.4 397.4" fill="none" stroke="#00ff00" stroke-width="2.25" stroke-linejoin="round" stroke-linecap="round"/>
<path d="M428.6 396.4C429.68 396.57 432.83 397.17 435.1 397.4C437.37 397.63 439.02 397.73 442.2 397.8C445.38 397.87 452.2 397.8 454.2 397.8C454.33 399.42 454.87 405.88 455 407.5C455.47 407.28 456.73 406.82 457.8 406.2C458.87 405.58 459.85 404.43 461.4 403.8C462.95 403.17 464.33 402.75 467.1 402.4C469.87 402.05 475 401.7 478 401.7C481 401.7 483.17 402.17 485.1 402.4C487.03 402.63 488.85 402.98 489.6 403.1C489.68 401.5 490.02 395.1 490.1 393.5C490.68 393.8 492.07 394.82 493.6 395.3C495.13 395.78 496.57 396.1 499.3 396.4C502.03 396.7 506.2 396.9 510 397.1C513.8 397.3 520.08 397.52 522.1 397.6C522.22 399.25 522.68 405.85 522.8 407.5C523.17 407.32 524.13 406.82 525 406.4C525.87 405.98 526.35 405.48 528 405C529.65 404.52 532.08 403.83 534.9 403.5C537.72 403.17 541.92 402.92 544.9 403C547.88 403.08 550.85 403.53 552.8 404C554.75 404.47 555.97 405.5 556.6 405.8C556.72 406.25 556.73 407.6 557.3 408.5C557.87 409.4 558.9 410.35 560 411.2C561.1 412.05 562.13 411.52 563.9 413.6C565.67 415.68 568.07 420.05 570.6 423.7C573.13 427.35 576.7 432.2 579.1 435.5C581.5 438.8 582.87 440.63 585 443.5C587.13 446.37 589.4 449.23 591.9 452.7C594.4 456.17 597.3 460.45 600 464.3C602.7 468.15 605.6 472.15 608.1 475.8C610.6 479.45 613.18 483.67 615 486.2C616.82 488.73 617.83 489.65 619 491C620.17 492.35 620.93 493.43 622 494.3C623.07 495.17 623.87 495.78 625.4 496.2C626.93 496.62 629.1 496.67 631.2 496.8C633.3 496.93 635.85 497.03 638 497C640.15 496.97 641.47 497.25 644.1 496.6C646.73 495.95 651.28 494.48 653.8 493.1C656.32 491.72 658.03 489.98 659.2 488.3C660.37 486.62 660.53 483.88 660.8 483C660.88 482.1 660.85 478.67 661.3 477.6C661.75 476.53 662.33 476.83 663.5 476.6C664.67 476.37 665.88 476.17 668.3 476.2C670.72 476.23 674.78 476.3 678 476.8C681.22 477.3 685.1 477.88 687.6 479.2C690.1 480.52 692.1 483.78 693 484.7C693.15 486.5 693.75 493.7 693.9 495.5C694.33 495.67 695.42 496.28 696.5 496.5C697.58 496.72 699.75 496.75 700.4 496.8" fill="none" stroke="#00ff00" stroke-width="2.25" stroke-linejoin="round" stroke-linecap="round"/>
<line x1="428.7" y1="400.2" x2="700.6" y2="399.2" stroke="#111" stroke-width="1.8" stroke-dasharray="8 8.3"/>
<line x1="601.9" y1="301.5" x2="631.9" y2="301.5" stroke="#ff0000" stroke-width="1.8" />
<text x="634.3" y="305.6" font-size="12.55" text-anchor="start" font-weight="bold" font-family="'Liberation Serif', serif" >Structure B</text>
<line x1="601.9" y1="316.7" x2="631.9" y2="316.7" stroke="#0000ff" stroke-width="1.8" />
<text x="634.3" y="321.2" font-size="12.55" text-anchor="start" font-weight="bold" font-family="'Liberation Serif', serif" >Structure C</text>
<line x1="601.9" y1="332.7" x2="631.9" y2="332.7" stroke="#00ff00" stroke-width="1.8" />
<text x="634.3" y="336.3" font-size="12.55" text-anchor="start" font-weight="bold" font-family="'Liberation Serif', serif" >Structure D</text>
<text x="437.1" y="313.9" font-size="12.6" text-anchor="start" font-weight="bold" font-family="'Liberation Serif', serif" >E</text>
<text x="445.2" y="317.4" font-size="7.8" text-anchor="start" font-weight="bold" font-family="'Liberation Serif', serif" >c</text>
<text x="440" y="416.7" font-size="12.6" text-anchor="start" font-weight="bold" font-family="'Liberation Serif', serif" >E</text>
<text x="448.4" y="419.8" font-size="7.8" text-anchor="start" font-weight="bold" font-family="'Liberation Serif', serif" >v</text>
<line x1="436.8" y1="467.8" x2="466" y2="467.8" stroke="#000" stroke-width="1.7" />
<polygon points="464.5,465 475.6,467.8 464.5,470.6" fill="#000"/>
<text x="436.6" y="479.8" font-size="12" text-anchor="start" font-weight="bold" font-family="'Liberation Serif', serif" fill="#222">[0001]</text>
<text x="436.8" y="495.7" font-size="12.2" text-anchor="start" font-weight="bold" font-family="'Liberation Serif', serif" >140 mA</text>
<line x1="522.8" y1="442.7" x2="641.4" y2="441.6" stroke="#000" stroke-width="1.6" />
<line x1="522.8" y1="432.4" x2="522.8" y2="448.9" stroke="#000" stroke-width="1.5" />
<line x1="591.5" y1="433.6" x2="591.5" y2="449.4" stroke="#000" stroke-width="1.5" />
<line x1="635.7" y1="434.3" x2="635.7" y2="450.6" stroke="#000" stroke-width="1.5" />
<line x1="641.4" y1="434.3" x2="641.4" y2="450.6" stroke="#000" stroke-width="1.5" />
<text x="518.6" y="463.6" font-size="12.2" text-anchor="start" font-weight="bold" font-family="'Liberation Serif', serif" >B</text>
<text x="526.9" y="466.5" font-size="8" text-anchor="start" font-weight="bold" font-family="'Liberation Serif', serif" >1</text>
<text x="518.6" y="481.8" font-size="12.2" text-anchor="start" font-weight="bold" font-family="'Liberation Serif', serif" >C</text>
<text x="526.9" y="484.7" font-size="8" text-anchor="start" font-weight="bold" font-family="'Liberation Serif', serif" >1</text>
<text x="518.6" y="500.3" font-size="12.2" text-anchor="start" font-weight="bold" font-family="'Liberation Serif', serif" >D</text>
<text x="526.9" y="503.2" font-size="8" text-anchor="start" font-weight="bold" font-family="'Liberation Serif', serif" >1</text>
<text x="587.1" y="464.6" font-size="12.2" text-anchor="start" font-weight="bold" font-family="'Liberation Serif', serif" >B</text>
<text x="595.4" y="468" font-size="8" text-anchor="start" font-weight="bold" font-family="'Liberation Serif', serif" >2</text>
<text x="623.3" y="466.5" font-size="12.2" text-anchor="start" font-weight="bold" font-family="'Liberation Serif', serif" >C</text>
<text x="632.2" y="470" font-size="8" text-anchor="start" font-weight="bold" font-family="'Liberation Serif', serif" >2</text>
<text x="640.9" y="466.5" font-size="12.2" text-anchor="start" font-weight="bold" font-family="'Liberation Serif', serif" >D</text>
<text x="649.6" y="470" font-size="8" text-anchor="start" font-weight="bold" font-family="'Liberation Serif', serif" >2</text>
<ellipse cx="208" cy="400.8" rx="19.6" ry="108.8" fill="#ff0000" fill-opacity="0.333"/>
<polygon points="267,372.2 382.4,372.2 382.4,354.3 418.9,390.3 382.4,428 382.4,409.1 267,409.1" fill="#ff0000" fill-opacity="0.41"/>
<text transform="translate(405.2 402.8) rotate(-90)" x="0" y="0" font-size="18.6" text-anchor="middle" font-weight="bold" font-family="'Liberation Serif', serif" >Energy (eV)</text></svg>
</body></html>
